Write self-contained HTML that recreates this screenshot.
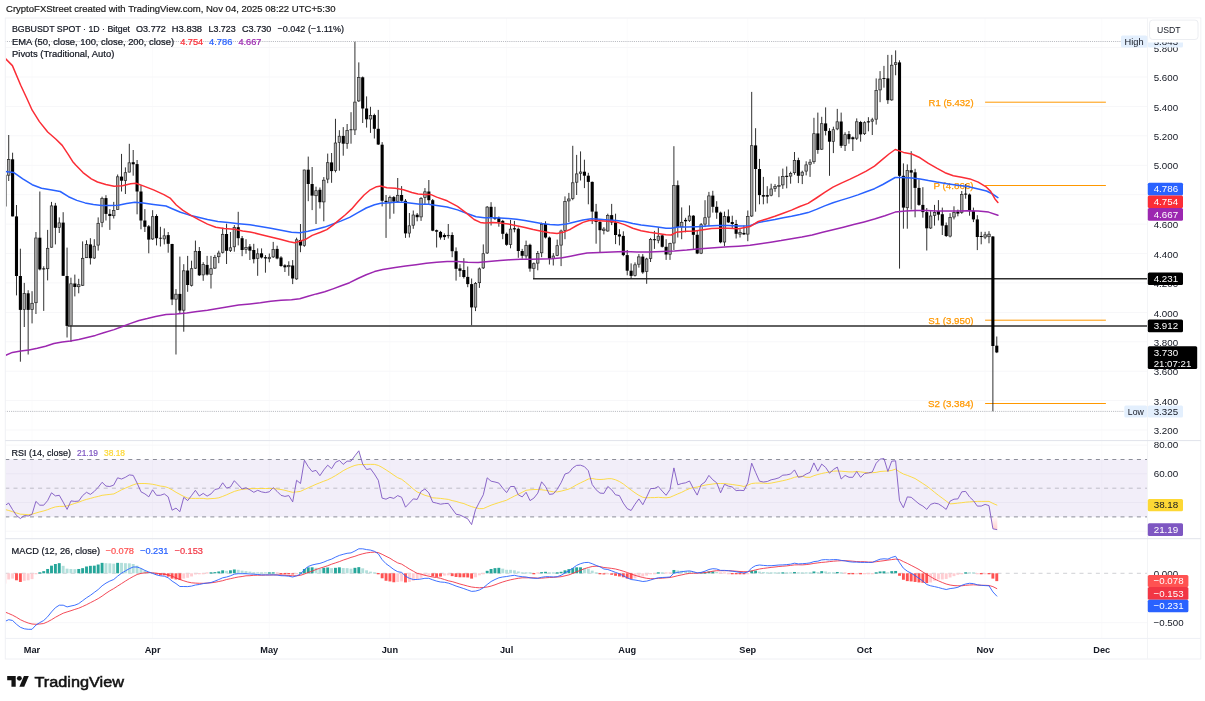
<!DOCTYPE html>
<html lang="en"><head><meta charset="utf-8"><title>BGBUSDT chart</title>
<style>html,body{margin:0;padding:0;background:#fff;overflow:hidden}svg{display:block}</style>
</head><body>
<svg width="1205" height="701" viewBox="0 0 1205 701" font-family="&quot;Liberation Sans&quot;, sans-serif">
<rect width="1205" height="701" fill="#fff"/>
<g stroke="#f7f7f9" stroke-width="1"><line x1="32.0" y1="18.0" x2="32.0" y2="638.4" stroke="#fbfbfc"/><line x1="152.6" y1="18.0" x2="152.6" y2="638.4" stroke="#fbfbfc"/><line x1="269.3" y1="18.0" x2="269.3" y2="638.4" stroke="#fbfbfc"/><line x1="389.9" y1="18.0" x2="389.9" y2="638.4" stroke="#fbfbfc"/><line x1="506.6" y1="18.0" x2="506.6" y2="638.4" stroke="#fbfbfc"/><line x1="627.2" y1="18.0" x2="627.2" y2="638.4" stroke="#fbfbfc"/><line x1="747.8" y1="18.0" x2="747.8" y2="638.4" stroke="#fbfbfc"/><line x1="864.5" y1="18.0" x2="864.5" y2="638.4" stroke="#fbfbfc"/><line x1="985.1" y1="18.0" x2="985.1" y2="638.4" stroke="#fbfbfc"/><line x1="1101.8" y1="18.0" x2="1101.8" y2="638.4" stroke="#fbfbfc"/><line x1="5.3" y1="47.6" x2="1147.5" y2="47.6"/><line x1="5.3" y1="77.0" x2="1147.5" y2="77.0"/><line x1="5.3" y1="106.4" x2="1147.5" y2="106.4"/><line x1="5.3" y1="135.8" x2="1147.5" y2="135.8"/><line x1="5.3" y1="165.3" x2="1147.5" y2="165.3"/><line x1="5.3" y1="194.7" x2="1147.5" y2="194.7"/><line x1="5.3" y1="224.1" x2="1147.5" y2="224.1"/><line x1="5.3" y1="253.5" x2="1147.5" y2="253.5"/><line x1="5.3" y1="282.9" x2="1147.5" y2="282.9"/><line x1="5.3" y1="312.4" x2="1147.5" y2="312.4"/><line x1="5.3" y1="341.8" x2="1147.5" y2="341.8"/><line x1="5.3" y1="371.2" x2="1147.5" y2="371.2"/><line x1="5.3" y1="400.6" x2="1147.5" y2="400.6"/><line x1="5.3" y1="430.0" x2="1147.5" y2="430.0"/><line x1="5.3" y1="445.1" x2="1147.5" y2="445.1"/><line x1="5.3" y1="473.8" x2="1147.5" y2="473.8"/><line x1="5.3" y1="502.5" x2="1147.5" y2="502.5"/><line x1="5.3" y1="531.2" x2="1147.5" y2="531.2"/><line x1="5.3" y1="622.7" x2="1147.5" y2="622.7"/></g>
<rect x="5.3" y="459.5" width="1142.2" height="57.4" fill="#7e57c2" fill-opacity="0.1"/>
<g stroke-dasharray="4 4.2" stroke-width="0.85" fill="none"><line x1="5.3" y1="459.5" x2="1147.5" y2="459.5" stroke="#787b86"/><line x1="5.3" y1="488.2" x2="1147.5" y2="488.2" stroke="#787b86" stroke-opacity="0.5"/><line x1="5.3" y1="516.9" x2="1147.5" y2="516.9" stroke="#787b86"/></g>
<line x1="5.3" y1="573.3" x2="1147.5" y2="573.3" stroke="#787b86" stroke-opacity="0.45" stroke-width="0.8" stroke-dasharray="4 4.2"/>
<line x1="5.3" y1="41.5" x2="1121" y2="41.5" stroke="#9598a1" stroke-width="0.8" stroke-dasharray="0.8 1.1"/>
<line x1="5.3" y1="411.4" x2="1124" y2="411.4" stroke="#9598a1" stroke-width="0.8" stroke-dasharray="0.8 1.1"/>
<line x1="985.1" y1="102.2" x2="1105.9" y2="102.2" stroke="#ff9800" stroke-width="1"/>
<text x="973.6" y="105.5" font-size="9.3" fill="#ff9800" stroke="#ff9800" stroke-width="0.25" text-anchor="end" textLength="45.0" lengthAdjust="spacingAndGlyphs">R1 (5.432)</text>
<line x1="985.1" y1="185.5" x2="1105.9" y2="185.5" stroke="#ff9800" stroke-width="1"/>
<text x="973.6" y="188.8" font-size="9.3" fill="#ff9800" stroke="#ff9800" stroke-width="0.25" text-anchor="end" textLength="40.1" lengthAdjust="spacingAndGlyphs">P (4.866)</text>
<line x1="985.1" y1="320.2" x2="1105.9" y2="320.2" stroke="#ff9800" stroke-width="1"/>
<text x="973.6" y="323.5" font-size="9.3" fill="#ff9800" stroke="#ff9800" stroke-width="0.25" text-anchor="end" textLength="45.4" lengthAdjust="spacingAndGlyphs">S1 (3.950)</text>
<line x1="985.1" y1="403.5" x2="1105.9" y2="403.5" stroke="#ff9800" stroke-width="1"/>
<text x="973.6" y="406.8" font-size="9.3" fill="#ff9800" stroke="#ff9800" stroke-width="0.25" text-anchor="end" textLength="45.6" lengthAdjust="spacingAndGlyphs">S2 (3.384)</text>
<defs><clipPath id="cp"><rect x="5.8" y="18.0" width="1141.7" height="620.4"/></clipPath><linearGradient id="os" x1="0" y1="0" x2="0" y2="1"><stop offset="0" stop-color="#ff5252" stop-opacity="0.02"/><stop offset="1" stop-color="#ff5252" stop-opacity="0.28"/></linearGradient></defs>
<g clip-path="url(#cp)">
<g><rect x="3.37" y="573.30" width="2.9" height="10.29" fill="#ffcdd2"/><rect x="7.26" y="573.30" width="2.9" height="6.15" fill="#ffcdd2"/><rect x="11.15" y="573.30" width="2.9" height="5.32" fill="#ffcdd2"/><rect x="15.04" y="573.30" width="2.9" height="6.98" fill="#ff5252"/><rect x="18.93" y="573.30" width="2.9" height="8.64" fill="#ff5252"/><rect x="22.82" y="573.30" width="2.9" height="7.47" fill="#ffcdd2"/><rect x="26.71" y="573.30" width="2.9" height="6.98" fill="#ffcdd2"/><rect x="30.60" y="573.30" width="2.9" height="5.81" fill="#ffcdd2"/><rect x="34.49" y="573.00" width="2.9" height="1.30" fill="#ffcdd2"/><rect x="38.38" y="572.30" width="2.9" height="1.30" fill="#26a69a"/><rect x="42.27" y="571.15" width="2.9" height="2.15" fill="#26a69a"/><rect x="46.16" y="568.98" width="2.9" height="4.32" fill="#26a69a"/><rect x="50.05" y="565.66" width="2.9" height="7.64" fill="#26a69a"/><rect x="53.94" y="564.00" width="2.9" height="9.30" fill="#26a69a"/><rect x="57.83" y="563.17" width="2.9" height="10.13" fill="#26a69a"/><rect x="61.72" y="565.83" width="2.9" height="7.47" fill="#b2dfdb"/><rect x="65.61" y="568.66" width="2.9" height="4.64" fill="#b2dfdb"/><rect x="69.50" y="568.98" width="2.9" height="4.32" fill="#b2dfdb"/><rect x="73.39" y="569.15" width="2.9" height="4.15" fill="#b2dfdb"/><rect x="77.28" y="568.98" width="2.9" height="4.32" fill="#26a69a"/><rect x="81.17" y="568.15" width="2.9" height="5.15" fill="#26a69a"/><rect x="85.06" y="566.49" width="2.9" height="6.81" fill="#26a69a"/><rect x="88.95" y="565.83" width="2.9" height="7.47" fill="#26a69a"/><rect x="92.84" y="565.66" width="2.9" height="7.64" fill="#26a69a"/><rect x="96.73" y="564.51" width="2.9" height="8.79" fill="#26a69a"/><rect x="100.62" y="562.85" width="2.9" height="10.45" fill="#26a69a"/><rect x="104.51" y="563.17" width="2.9" height="10.13" fill="#b2dfdb"/><rect x="108.40" y="563.34" width="2.9" height="9.96" fill="#b2dfdb"/><rect x="112.29" y="563.68" width="2.9" height="9.62" fill="#b2dfdb"/><rect x="116.18" y="562.85" width="2.9" height="10.45" fill="#26a69a"/><rect x="120.07" y="562.85" width="2.9" height="10.45" fill="#b2dfdb"/><rect x="123.96" y="563.17" width="2.9" height="10.13" fill="#b2dfdb"/><rect x="127.85" y="563.34" width="2.9" height="9.96" fill="#b2dfdb"/><rect x="131.74" y="564.00" width="2.9" height="9.30" fill="#b2dfdb"/><rect x="135.63" y="565.66" width="2.9" height="7.64" fill="#b2dfdb"/><rect x="139.52" y="568.66" width="2.9" height="4.64" fill="#b2dfdb"/><rect x="143.41" y="570.64" width="2.9" height="2.66" fill="#b2dfdb"/><rect x="147.30" y="571.98" width="2.9" height="1.32" fill="#b2dfdb"/><rect x="151.19" y="572.30" width="2.9" height="1.30" fill="#b2dfdb"/><rect x="155.08" y="573.30" width="2.9" height="1.17" fill="#ff5252"/><rect x="158.97" y="573.30" width="2.9" height="2.00" fill="#ff5252"/><rect x="162.86" y="573.30" width="2.9" height="2.00" fill="#ff5252"/><rect x="166.75" y="573.30" width="2.9" height="3.32" fill="#ff5252"/><rect x="170.64" y="573.30" width="2.9" height="5.32" fill="#ff5252"/><rect x="174.53" y="573.30" width="2.9" height="6.15" fill="#ff5252"/><rect x="178.42" y="573.30" width="2.9" height="6.64" fill="#ff5252"/><rect x="182.31" y="573.30" width="2.9" height="5.32" fill="#ffcdd2"/><rect x="186.20" y="573.30" width="2.9" height="4.49" fill="#ffcdd2"/><rect x="190.09" y="573.30" width="2.9" height="3.15" fill="#ffcdd2"/><rect x="193.98" y="573.30" width="2.9" height="1.17" fill="#ffcdd2"/><rect x="197.87" y="573.00" width="2.9" height="1.30" fill="#ffcdd2"/><rect x="201.76" y="573.00" width="2.9" height="1.30" fill="#ffcdd2"/><rect x="205.65" y="572.30" width="2.9" height="1.30" fill="#ffcdd2"/><rect x="209.54" y="572.30" width="2.9" height="1.30" fill="#26a69a"/><rect x="213.43" y="572.13" width="2.9" height="1.17" fill="#26a69a"/><rect x="217.32" y="571.47" width="2.9" height="1.83" fill="#26a69a"/><rect x="221.21" y="570.32" width="2.9" height="2.98" fill="#26a69a"/><rect x="225.10" y="570.81" width="2.9" height="2.49" fill="#b2dfdb"/><rect x="228.99" y="570.32" width="2.9" height="2.98" fill="#26a69a"/><rect x="232.88" y="569.49" width="2.9" height="3.81" fill="#26a69a"/><rect x="236.77" y="569.81" width="2.9" height="3.49" fill="#b2dfdb"/><rect x="240.66" y="570.64" width="2.9" height="2.66" fill="#b2dfdb"/><rect x="244.55" y="571.15" width="2.9" height="2.15" fill="#b2dfdb"/><rect x="248.44" y="571.64" width="2.9" height="1.66" fill="#b2dfdb"/><rect x="252.33" y="572.30" width="2.9" height="1.30" fill="#b2dfdb"/><rect x="256.22" y="572.30" width="2.9" height="1.30" fill="#b2dfdb"/><rect x="260.11" y="572.30" width="2.9" height="1.30" fill="#b2dfdb"/><rect x="264.00" y="572.30" width="2.9" height="1.30" fill="#b2dfdb"/><rect x="267.89" y="572.30" width="2.9" height="1.30" fill="#26a69a"/><rect x="271.78" y="572.30" width="2.9" height="1.30" fill="#26a69a"/><rect x="275.67" y="572.30" width="2.9" height="1.30" fill="#ffcdd2"/><rect x="279.56" y="573.00" width="2.9" height="1.30" fill="#ff5252"/><rect x="283.45" y="573.00" width="2.9" height="1.30" fill="#ff5252"/><rect x="287.34" y="573.00" width="2.9" height="1.30" fill="#ff5252"/><rect x="291.23" y="573.30" width="2.9" height="1.17" fill="#ff5252"/><rect x="295.12" y="573.00" width="2.9" height="1.30" fill="#ffcdd2"/><rect x="299.01" y="572.30" width="2.9" height="1.30" fill="#26a69a"/><rect x="302.90" y="568.98" width="2.9" height="4.32" fill="#26a69a"/><rect x="306.79" y="567.32" width="2.9" height="5.98" fill="#26a69a"/><rect x="310.68" y="567.32" width="2.9" height="5.98" fill="#26a69a"/><rect x="314.57" y="567.83" width="2.9" height="5.47" fill="#b2dfdb"/><rect x="318.46" y="568.66" width="2.9" height="4.64" fill="#b2dfdb"/><rect x="322.35" y="567.83" width="2.9" height="5.47" fill="#26a69a"/><rect x="326.24" y="567.49" width="2.9" height="5.81" fill="#26a69a"/><rect x="330.13" y="568.15" width="2.9" height="5.15" fill="#b2dfdb"/><rect x="334.02" y="567.83" width="2.9" height="5.47" fill="#26a69a"/><rect x="337.91" y="567.32" width="2.9" height="5.98" fill="#26a69a"/><rect x="341.80" y="567.98" width="2.9" height="5.32" fill="#b2dfdb"/><rect x="345.69" y="568.15" width="2.9" height="5.15" fill="#b2dfdb"/><rect x="349.58" y="568.66" width="2.9" height="4.64" fill="#b2dfdb"/><rect x="353.47" y="567.83" width="2.9" height="5.47" fill="#26a69a"/><rect x="357.36" y="567.15" width="2.9" height="6.15" fill="#26a69a"/><rect x="361.25" y="568.32" width="2.9" height="4.98" fill="#b2dfdb"/><rect x="365.14" y="570.32" width="2.9" height="2.98" fill="#b2dfdb"/><rect x="369.03" y="571.64" width="2.9" height="1.66" fill="#b2dfdb"/><rect x="372.92" y="572.30" width="2.9" height="1.30" fill="#b2dfdb"/><rect x="376.81" y="573.00" width="2.9" height="1.30" fill="#ff5252"/><rect x="380.70" y="573.30" width="2.9" height="4.98" fill="#ff5252"/><rect x="384.59" y="573.30" width="2.9" height="7.47" fill="#ff5252"/><rect x="388.48" y="573.30" width="2.9" height="8.13" fill="#ff5252"/><rect x="392.37" y="573.30" width="2.9" height="8.96" fill="#ff5252"/><rect x="396.26" y="573.30" width="2.9" height="8.64" fill="#ffcdd2"/><rect x="400.15" y="573.30" width="2.9" height="8.13" fill="#ffcdd2"/><rect x="404.04" y="573.30" width="2.9" height="9.13" fill="#ff5252"/><rect x="407.93" y="573.30" width="2.9" height="8.64" fill="#ffcdd2"/><rect x="411.82" y="573.30" width="2.9" height="7.47" fill="#ffcdd2"/><rect x="415.71" y="573.30" width="2.9" height="6.15" fill="#ffcdd2"/><rect x="419.60" y="573.30" width="2.9" height="4.49" fill="#ffcdd2"/><rect x="423.49" y="573.30" width="2.9" height="2.49" fill="#ffcdd2"/><rect x="427.38" y="573.30" width="2.9" height="2.00" fill="#ffcdd2"/><rect x="431.27" y="573.30" width="2.9" height="3.15" fill="#ff5252"/><rect x="435.16" y="573.30" width="2.9" height="3.66" fill="#ff5252"/><rect x="439.05" y="573.30" width="2.9" height="3.32" fill="#ff5252"/><rect x="442.94" y="573.30" width="2.9" height="2.32" fill="#ffcdd2"/><rect x="446.83" y="573.30" width="2.9" height="2.00" fill="#ffcdd2"/><rect x="450.72" y="573.30" width="2.9" height="2.83" fill="#ff5252"/><rect x="454.61" y="573.30" width="2.9" height="3.66" fill="#ff5252"/><rect x="458.50" y="573.30" width="2.9" height="3.98" fill="#ff5252"/><rect x="462.39" y="573.30" width="2.9" height="3.98" fill="#ff5252"/><rect x="466.28" y="573.30" width="2.9" height="4.15" fill="#ff5252"/><rect x="470.17" y="573.30" width="2.9" height="5.32" fill="#ff5252"/><rect x="474.06" y="573.30" width="2.9" height="3.98" fill="#ffcdd2"/><rect x="477.95" y="573.30" width="2.9" height="2.00" fill="#ffcdd2"/><rect x="481.84" y="573.00" width="2.9" height="1.30" fill="#ffcdd2"/><rect x="485.73" y="570.81" width="2.9" height="2.49" fill="#26a69a"/><rect x="489.62" y="568.98" width="2.9" height="4.32" fill="#26a69a"/><rect x="493.51" y="568.15" width="2.9" height="5.15" fill="#26a69a"/><rect x="497.40" y="567.83" width="2.9" height="5.47" fill="#26a69a"/><rect x="501.29" y="568.66" width="2.9" height="4.64" fill="#b2dfdb"/><rect x="505.18" y="569.81" width="2.9" height="3.49" fill="#b2dfdb"/><rect x="509.07" y="569.81" width="2.9" height="3.49" fill="#b2dfdb"/><rect x="512.96" y="570.32" width="2.9" height="2.98" fill="#b2dfdb"/><rect x="516.85" y="571.47" width="2.9" height="1.83" fill="#b2dfdb"/><rect x="520.74" y="572.30" width="2.9" height="1.30" fill="#b2dfdb"/><rect x="524.63" y="572.30" width="2.9" height="1.30" fill="#b2dfdb"/><rect x="528.52" y="572.30" width="2.9" height="1.30" fill="#b2dfdb"/><rect x="532.41" y="573.00" width="2.9" height="1.30" fill="#ff5252"/><rect x="536.30" y="572.30" width="2.9" height="1.30" fill="#ffcdd2"/><rect x="540.19" y="572.13" width="2.9" height="1.17" fill="#26a69a"/><rect x="544.08" y="571.81" width="2.9" height="1.49" fill="#26a69a"/><rect x="547.97" y="572.30" width="2.9" height="1.30" fill="#b2dfdb"/><rect x="551.86" y="572.30" width="2.9" height="1.30" fill="#b2dfdb"/><rect x="555.75" y="572.30" width="2.9" height="1.30" fill="#26a69a"/><rect x="559.64" y="571.81" width="2.9" height="1.49" fill="#26a69a"/><rect x="563.53" y="570.32" width="2.9" height="2.98" fill="#26a69a"/><rect x="567.42" y="569.15" width="2.9" height="4.15" fill="#26a69a"/><rect x="571.31" y="568.15" width="2.9" height="5.15" fill="#26a69a"/><rect x="575.20" y="567.32" width="2.9" height="5.98" fill="#26a69a"/><rect x="579.09" y="567.32" width="2.9" height="5.98" fill="#26a69a"/><rect x="582.98" y="568.15" width="2.9" height="5.15" fill="#b2dfdb"/><rect x="586.87" y="568.66" width="2.9" height="4.64" fill="#b2dfdb"/><rect x="590.76" y="570.64" width="2.9" height="2.66" fill="#b2dfdb"/><rect x="594.65" y="572.30" width="2.9" height="1.30" fill="#b2dfdb"/><rect x="598.54" y="573.00" width="2.9" height="1.30" fill="#ff5252"/><rect x="602.43" y="573.30" width="2.9" height="1.17" fill="#ff5252"/><rect x="606.32" y="573.00" width="2.9" height="1.30" fill="#ffcdd2"/><rect x="610.21" y="573.30" width="2.9" height="1.49" fill="#ff5252"/><rect x="614.10" y="573.30" width="2.9" height="2.49" fill="#ff5252"/><rect x="617.99" y="573.30" width="2.9" height="3.15" fill="#ff5252"/><rect x="621.88" y="573.30" width="2.9" height="3.98" fill="#ff5252"/><rect x="625.77" y="573.30" width="2.9" height="5.32" fill="#ff5252"/><rect x="629.66" y="573.30" width="2.9" height="5.64" fill="#ff5252"/><rect x="633.55" y="573.30" width="2.9" height="4.98" fill="#ffcdd2"/><rect x="637.44" y="573.30" width="2.9" height="3.15" fill="#ffcdd2"/><rect x="641.33" y="573.30" width="2.9" height="3.15" fill="#ffcdd2"/><rect x="645.22" y="573.30" width="2.9" height="2.32" fill="#ffcdd2"/><rect x="649.11" y="573.00" width="2.9" height="1.30" fill="#ffcdd2"/><rect x="653.00" y="573.00" width="2.9" height="1.30" fill="#ffcdd2"/><rect x="656.89" y="572.30" width="2.9" height="1.30" fill="#26a69a"/><rect x="660.78" y="572.30" width="2.9" height="1.30" fill="#b2dfdb"/><rect x="664.67" y="572.30" width="2.9" height="1.30" fill="#ffcdd2"/><rect x="668.56" y="572.30" width="2.9" height="1.30" fill="#ffcdd2"/><rect x="672.45" y="569.98" width="2.9" height="3.32" fill="#26a69a"/><rect x="676.34" y="570.47" width="2.9" height="2.83" fill="#b2dfdb"/><rect x="680.23" y="570.81" width="2.9" height="2.49" fill="#b2dfdb"/><rect x="684.12" y="571.15" width="2.9" height="2.15" fill="#b2dfdb"/><rect x="688.01" y="571.15" width="2.9" height="2.15" fill="#b2dfdb"/><rect x="691.90" y="572.30" width="2.9" height="1.30" fill="#b2dfdb"/><rect x="695.79" y="572.30" width="2.9" height="1.30" fill="#ffcdd2"/><rect x="699.68" y="572.30" width="2.9" height="1.30" fill="#26a69a"/><rect x="703.57" y="572.30" width="2.9" height="1.30" fill="#26a69a"/><rect x="707.46" y="571.47" width="2.9" height="1.83" fill="#26a69a"/><rect x="711.35" y="571.47" width="2.9" height="1.83" fill="#26a69a"/><rect x="715.24" y="571.98" width="2.9" height="1.32" fill="#b2dfdb"/><rect x="719.13" y="572.30" width="2.9" height="1.30" fill="#ffcdd2"/><rect x="723.02" y="572.30" width="2.9" height="1.30" fill="#ffcdd2"/><rect x="726.91" y="573.00" width="2.9" height="1.30" fill="#ffcdd2"/><rect x="730.80" y="573.00" width="2.9" height="1.30" fill="#ff5252"/><rect x="734.69" y="573.00" width="2.9" height="1.30" fill="#ff5252"/><rect x="738.58" y="573.00" width="2.9" height="1.30" fill="#ff5252"/><rect x="742.47" y="573.00" width="2.9" height="1.30" fill="#ff5252"/><rect x="746.36" y="573.00" width="2.9" height="1.30" fill="#ffcdd2"/><rect x="750.25" y="570.64" width="2.9" height="2.66" fill="#26a69a"/><rect x="754.14" y="570.64" width="2.9" height="2.66" fill="#26a69a"/><rect x="758.03" y="571.64" width="2.9" height="1.66" fill="#b2dfdb"/><rect x="761.92" y="571.98" width="2.9" height="1.32" fill="#b2dfdb"/><rect x="765.81" y="572.30" width="2.9" height="1.30" fill="#b2dfdb"/><rect x="769.70" y="572.30" width="2.9" height="1.30" fill="#b2dfdb"/><rect x="773.59" y="572.30" width="2.9" height="1.30" fill="#b2dfdb"/><rect x="777.48" y="572.30" width="2.9" height="1.30" fill="#b2dfdb"/><rect x="781.37" y="572.30" width="2.9" height="1.30" fill="#26a69a"/><rect x="785.26" y="572.30" width="2.9" height="1.30" fill="#b2dfdb"/><rect x="789.15" y="572.30" width="2.9" height="1.30" fill="#b2dfdb"/><rect x="793.04" y="571.98" width="2.9" height="1.32" fill="#26a69a"/><rect x="796.93" y="572.30" width="2.9" height="1.30" fill="#b2dfdb"/><rect x="800.82" y="572.30" width="2.9" height="1.30" fill="#b2dfdb"/><rect x="804.71" y="572.30" width="2.9" height="1.30" fill="#b2dfdb"/><rect x="808.60" y="572.30" width="2.9" height="1.30" fill="#b2dfdb"/><rect x="812.49" y="571.47" width="2.9" height="1.83" fill="#26a69a"/><rect x="816.38" y="572.13" width="2.9" height="1.17" fill="#b2dfdb"/><rect x="820.27" y="571.15" width="2.9" height="2.15" fill="#26a69a"/><rect x="824.16" y="571.47" width="2.9" height="1.83" fill="#b2dfdb"/><rect x="828.05" y="572.30" width="2.9" height="1.30" fill="#b2dfdb"/><rect x="831.94" y="572.30" width="2.9" height="1.30" fill="#b2dfdb"/><rect x="835.83" y="571.98" width="2.9" height="1.32" fill="#26a69a"/><rect x="839.72" y="572.30" width="2.9" height="1.30" fill="#b2dfdb"/><rect x="843.61" y="572.30" width="2.9" height="1.30" fill="#ffcdd2"/><rect x="847.50" y="573.00" width="2.9" height="1.30" fill="#ff5252"/><rect x="851.39" y="573.00" width="2.9" height="1.30" fill="#ff5252"/><rect x="855.28" y="573.00" width="2.9" height="1.30" fill="#ffcdd2"/><rect x="859.17" y="573.00" width="2.9" height="1.30" fill="#ff5252"/><rect x="863.06" y="573.00" width="2.9" height="1.30" fill="#ffcdd2"/><rect x="866.95" y="573.00" width="2.9" height="1.30" fill="#ffcdd2"/><rect x="870.84" y="573.00" width="2.9" height="1.30" fill="#ffcdd2"/><rect x="874.73" y="572.30" width="2.9" height="1.30" fill="#26a69a"/><rect x="878.62" y="571.47" width="2.9" height="1.83" fill="#26a69a"/><rect x="882.51" y="571.30" width="2.9" height="2.00" fill="#26a69a"/><rect x="886.40" y="572.30" width="2.9" height="1.30" fill="#b2dfdb"/><rect x="890.29" y="571.15" width="2.9" height="2.15" fill="#26a69a"/><rect x="894.18" y="570.98" width="2.9" height="2.32" fill="#26a69a"/><rect x="898.07" y="573.30" width="2.9" height="2.49" fill="#ff5252"/><rect x="901.96" y="573.30" width="2.9" height="6.47" fill="#ff5252"/><rect x="905.85" y="573.30" width="2.9" height="7.81" fill="#ff5252"/><rect x="909.74" y="573.30" width="2.9" height="8.13" fill="#ff5252"/><rect x="913.63" y="573.30" width="2.9" height="8.64" fill="#ff5252"/><rect x="917.52" y="573.30" width="2.9" height="9.13" fill="#ff5252"/><rect x="921.41" y="573.30" width="2.9" height="9.47" fill="#ff5252"/><rect x="925.30" y="573.30" width="2.9" height="9.79" fill="#ff5252"/><rect x="929.19" y="573.30" width="2.9" height="9.13" fill="#ffcdd2"/><rect x="933.08" y="573.30" width="2.9" height="7.47" fill="#ffcdd2"/><rect x="936.97" y="573.30" width="2.9" height="6.15" fill="#ffcdd2"/><rect x="940.86" y="573.30" width="2.9" height="6.15" fill="#ffcdd2"/><rect x="944.75" y="573.30" width="2.9" height="5.64" fill="#ffcdd2"/><rect x="948.64" y="573.30" width="2.9" height="4.15" fill="#ffcdd2"/><rect x="952.53" y="573.30" width="2.9" height="2.83" fill="#ffcdd2"/><rect x="956.42" y="573.30" width="2.9" height="1.49" fill="#ffcdd2"/><rect x="960.31" y="573.00" width="2.9" height="1.30" fill="#ffcdd2"/><rect x="964.20" y="572.30" width="2.9" height="1.30" fill="#26a69a"/><rect x="968.09" y="572.30" width="2.9" height="1.30" fill="#b2dfdb"/><rect x="971.98" y="572.30" width="2.9" height="1.30" fill="#b2dfdb"/><rect x="975.87" y="573.00" width="2.9" height="1.30" fill="#ffcdd2"/><rect x="979.76" y="573.00" width="2.9" height="1.30" fill="#ff5252"/><rect x="983.65" y="573.00" width="2.9" height="1.30" fill="#ffcdd2"/><rect x="987.54" y="573.00" width="2.9" height="1.30" fill="#ff5252"/><rect x="991.43" y="573.30" width="2.9" height="5.32" fill="#ff5252"/><rect x="995.32" y="573.30" width="2.9" height="7.81" fill="#ff5252"/></g>
<line x1="533" y1="278.7" x2="1147.5" y2="278.7" stroke="#2e2e2e" stroke-width="1.5"/>
<line x1="68" y1="325.9" x2="1147.5" y2="325.9" stroke="#2e2e2e" stroke-width="1.5"/>
<g><line x1="8.71" y1="135.0" x2="8.71" y2="181.0" stroke="#1a1a1a" stroke-width="0.9"/><rect x="7.46" y="159.6" width="2.5" height="15.6" fill="#adadad" stroke="#262626" stroke-width="0.7"/><line x1="12.60" y1="152.7" x2="12.60" y2="216.4" stroke="#1a1a1a" stroke-width="0.9"/><rect x="11.05" y="159.3" width="3.1" height="57.1" fill="#000"/><line x1="16.49" y1="205.0" x2="16.49" y2="295.4" stroke="#1a1a1a" stroke-width="0.9"/><rect x="14.94" y="216.4" width="3.1" height="59.6" fill="#000"/><line x1="20.38" y1="248.7" x2="20.38" y2="361.7" stroke="#1a1a1a" stroke-width="0.9"/><rect x="18.83" y="276.0" width="3.1" height="33.9" fill="#000"/><line x1="24.27" y1="282.9" x2="24.27" y2="327.0" stroke="#1a1a1a" stroke-width="0.9"/><rect x="23.02" y="293.6" width="2.5" height="16.0" fill="#adadad" stroke="#262626" stroke-width="0.7"/><line x1="28.16" y1="290.2" x2="28.16" y2="354.5" stroke="#1a1a1a" stroke-width="0.9"/><rect x="26.61" y="293.3" width="3.1" height="16.6" fill="#000"/><line x1="32.05" y1="291.2" x2="32.05" y2="323.4" stroke="#1a1a1a" stroke-width="0.9"/><rect x="30.80" y="303.3" width="2.5" height="6.3" fill="#adadad" stroke="#262626" stroke-width="0.7"/><line x1="35.94" y1="232.0" x2="35.94" y2="314.0" stroke="#1a1a1a" stroke-width="0.9"/><rect x="34.69" y="238.0" width="2.5" height="64.7" fill="#adadad" stroke="#262626" stroke-width="0.7"/><line x1="39.83" y1="191.5" x2="39.83" y2="270.4" stroke="#1a1a1a" stroke-width="0.9"/><rect x="38.28" y="237.7" width="3.1" height="31.7" fill="#000"/><line x1="43.72" y1="266.3" x2="43.72" y2="310.9" stroke="#1a1a1a" stroke-width="0.9"/><rect x="42.17" y="268.4" width="3.1" height="1.0" fill="#000"/><line x1="47.61" y1="229.9" x2="47.61" y2="280.4" stroke="#1a1a1a" stroke-width="0.9"/><rect x="46.36" y="248.3" width="2.5" height="20.4" fill="#adadad" stroke="#262626" stroke-width="0.7"/><line x1="51.50" y1="201.9" x2="51.50" y2="247.6" stroke="#1a1a1a" stroke-width="0.9"/><rect x="50.25" y="205.9" width="2.5" height="41.3" fill="#adadad" stroke="#262626" stroke-width="0.7"/><line x1="55.39" y1="202.9" x2="55.39" y2="244.4" stroke="#1a1a1a" stroke-width="0.9"/><rect x="53.84" y="205.6" width="3.1" height="22.2" fill="#000"/><line x1="59.28" y1="217.4" x2="59.28" y2="233.0" stroke="#1a1a1a" stroke-width="0.9"/><rect x="58.03" y="222.9" width="2.5" height="4.6" fill="#adadad" stroke="#262626" stroke-width="0.7"/><line x1="63.17" y1="212.2" x2="63.17" y2="276.0" stroke="#1a1a1a" stroke-width="0.9"/><rect x="61.62" y="222.6" width="3.1" height="53.2" fill="#000"/><line x1="67.06" y1="247.6" x2="67.06" y2="337.5" stroke="#1a1a1a" stroke-width="0.9"/><rect x="65.51" y="276.0" width="3.1" height="49.9" fill="#000"/><line x1="70.95" y1="277.7" x2="70.95" y2="342.0" stroke="#1a1a1a" stroke-width="0.9"/><rect x="69.70" y="283.8" width="2.5" height="41.8" fill="#adadad" stroke="#262626" stroke-width="0.7"/><line x1="74.84" y1="274.6" x2="74.84" y2="296.4" stroke="#1a1a1a" stroke-width="0.9"/><rect x="73.29" y="283.5" width="3.1" height="3.5" fill="#000"/><line x1="78.73" y1="278.8" x2="78.73" y2="293.3" stroke="#1a1a1a" stroke-width="0.9"/><rect x="77.48" y="284.7" width="2.5" height="2.0" fill="#adadad" stroke="#262626" stroke-width="0.7"/><line x1="82.62" y1="241.4" x2="82.62" y2="286.0" stroke="#1a1a1a" stroke-width="0.9"/><rect x="81.37" y="258.3" width="2.5" height="27.0" fill="#adadad" stroke="#262626" stroke-width="0.7"/><line x1="86.51" y1="240.3" x2="86.51" y2="258.0" stroke="#1a1a1a" stroke-width="0.9"/><rect x="85.26" y="244.5" width="2.5" height="13.2" fill="#adadad" stroke="#262626" stroke-width="0.7"/><line x1="90.40" y1="238.2" x2="90.40" y2="264.5" stroke="#1a1a1a" stroke-width="0.9"/><rect x="88.85" y="244.4" width="3.1" height="13.8" fill="#000"/><line x1="94.29" y1="239.2" x2="94.29" y2="259.0" stroke="#1a1a1a" stroke-width="0.9"/><rect x="93.04" y="246.2" width="2.5" height="11.8" fill="#adadad" stroke="#262626" stroke-width="0.7"/><line x1="98.18" y1="217.4" x2="98.18" y2="250.6" stroke="#1a1a1a" stroke-width="0.9"/><rect x="96.93" y="223.3" width="2.5" height="21.8" fill="#adadad" stroke="#262626" stroke-width="0.7"/><line x1="102.07" y1="196.7" x2="102.07" y2="227.2" stroke="#1a1a1a" stroke-width="0.9"/><rect x="100.82" y="198.4" width="2.5" height="23.9" fill="#adadad" stroke="#262626" stroke-width="0.7"/><line x1="105.96" y1="195.2" x2="105.96" y2="220.5" stroke="#1a1a1a" stroke-width="0.9"/><rect x="104.41" y="198.1" width="3.1" height="15.8" fill="#000"/><line x1="109.85" y1="209.1" x2="109.85" y2="229.9" stroke="#1a1a1a" stroke-width="0.9"/><rect x="108.30" y="213.9" width="3.1" height="2.1" fill="#000"/><line x1="113.74" y1="201.9" x2="113.74" y2="218.5" stroke="#1a1a1a" stroke-width="0.9"/><rect x="112.49" y="210.5" width="2.5" height="5.2" fill="#adadad" stroke="#262626" stroke-width="0.7"/><line x1="117.63" y1="174.5" x2="117.63" y2="209.8" stroke="#1a1a1a" stroke-width="0.9"/><rect x="116.38" y="176.8" width="2.5" height="32.7" fill="#adadad" stroke="#262626" stroke-width="0.7"/><line x1="121.52" y1="153.9" x2="121.52" y2="191.5" stroke="#1a1a1a" stroke-width="0.9"/><rect x="119.97" y="176.6" width="3.1" height="4.1" fill="#000"/><line x1="125.41" y1="167.4" x2="125.41" y2="194.0" stroke="#1a1a1a" stroke-width="0.9"/><rect x="124.16" y="172.7" width="2.5" height="7.7" fill="#adadad" stroke="#262626" stroke-width="0.7"/><line x1="129.30" y1="143.8" x2="129.30" y2="172.4" stroke="#1a1a1a" stroke-width="0.9"/><rect x="128.05" y="162.8" width="2.5" height="9.3" fill="#adadad" stroke="#262626" stroke-width="0.7"/><line x1="133.19" y1="150.0" x2="133.19" y2="175.7" stroke="#1a1a1a" stroke-width="0.9"/><rect x="131.64" y="162.2" width="3.1" height="2.1" fill="#000"/><line x1="137.08" y1="160.0" x2="137.08" y2="214.3" stroke="#1a1a1a" stroke-width="0.9"/><rect x="135.53" y="164.1" width="3.1" height="27.4" fill="#000"/><line x1="140.97" y1="185.3" x2="140.97" y2="229.3" stroke="#1a1a1a" stroke-width="0.9"/><rect x="139.42" y="191.5" width="3.1" height="29.0" fill="#000"/><line x1="144.86" y1="209.1" x2="144.86" y2="232.0" stroke="#1a1a1a" stroke-width="0.9"/><rect x="143.31" y="220.5" width="3.1" height="6.3" fill="#000"/><line x1="148.75" y1="225.0" x2="148.75" y2="253.3" stroke="#1a1a1a" stroke-width="0.9"/><rect x="147.20" y="226.3" width="3.1" height="13.3" fill="#000"/><line x1="152.64" y1="210.2" x2="152.64" y2="240.0" stroke="#1a1a1a" stroke-width="0.9"/><rect x="151.39" y="216.7" width="2.5" height="22.2" fill="#adadad" stroke="#262626" stroke-width="0.7"/><line x1="156.53" y1="214.3" x2="156.53" y2="245.4" stroke="#1a1a1a" stroke-width="0.9"/><rect x="154.98" y="216.0" width="3.1" height="22.2" fill="#000"/><line x1="160.42" y1="226.8" x2="160.42" y2="246.5" stroke="#1a1a1a" stroke-width="0.9"/><rect x="158.87" y="237.8" width="3.1" height="0.8" fill="#000"/><line x1="164.31" y1="228.4" x2="164.31" y2="244.4" stroke="#1a1a1a" stroke-width="0.9"/><rect x="163.06" y="235.8" width="2.5" height="3.1" fill="#adadad" stroke="#262626" stroke-width="0.7"/><line x1="168.20" y1="232.0" x2="168.20" y2="252.7" stroke="#1a1a1a" stroke-width="0.9"/><rect x="166.65" y="235.1" width="3.1" height="8.7" fill="#000"/><line x1="172.09" y1="243.8" x2="172.09" y2="305.1" stroke="#1a1a1a" stroke-width="0.9"/><rect x="170.54" y="244.0" width="3.1" height="55.5" fill="#000"/><line x1="175.98" y1="289.1" x2="175.98" y2="354.5" stroke="#1a1a1a" stroke-width="0.9"/><rect x="174.73" y="294.2" width="2.5" height="5.0" fill="#adadad" stroke="#262626" stroke-width="0.7"/><line x1="179.87" y1="256.6" x2="179.87" y2="314.0" stroke="#1a1a1a" stroke-width="0.9"/><rect x="178.32" y="293.9" width="3.1" height="16.6" fill="#000"/><line x1="183.76" y1="264.2" x2="183.76" y2="331.7" stroke="#1a1a1a" stroke-width="0.9"/><rect x="182.51" y="270.8" width="2.5" height="39.4" fill="#adadad" stroke="#262626" stroke-width="0.7"/><line x1="187.65" y1="255.9" x2="187.65" y2="291.8" stroke="#1a1a1a" stroke-width="0.9"/><rect x="186.10" y="270.5" width="3.1" height="14.5" fill="#000"/><line x1="191.54" y1="260.7" x2="191.54" y2="286.5" stroke="#1a1a1a" stroke-width="0.9"/><rect x="190.29" y="268.7" width="2.5" height="16.6" fill="#adadad" stroke="#262626" stroke-width="0.7"/><line x1="195.43" y1="240.6" x2="195.43" y2="269.0" stroke="#1a1a1a" stroke-width="0.9"/><rect x="194.18" y="251.3" width="2.5" height="16.9" fill="#adadad" stroke="#262626" stroke-width="0.7"/><line x1="199.32" y1="247.0" x2="199.32" y2="276.0" stroke="#1a1a1a" stroke-width="0.9"/><rect x="197.77" y="251.0" width="3.1" height="24.3" fill="#000"/><line x1="203.21" y1="262.2" x2="203.21" y2="280.8" stroke="#1a1a1a" stroke-width="0.9"/><rect x="201.96" y="264.5" width="2.5" height="10.4" fill="#adadad" stroke="#262626" stroke-width="0.7"/><line x1="207.10" y1="255.9" x2="207.10" y2="275.5" stroke="#1a1a1a" stroke-width="0.9"/><rect x="205.55" y="264.9" width="3.1" height="9.7" fill="#000"/><line x1="210.99" y1="255.9" x2="210.99" y2="288.5" stroke="#1a1a1a" stroke-width="0.9"/><rect x="209.74" y="268.7" width="2.5" height="5.6" fill="#adadad" stroke="#262626" stroke-width="0.7"/><line x1="214.88" y1="254.9" x2="214.88" y2="269.0" stroke="#1a1a1a" stroke-width="0.9"/><rect x="213.63" y="257.3" width="2.5" height="10.8" fill="#adadad" stroke="#262626" stroke-width="0.7"/><line x1="218.77" y1="250.7" x2="218.77" y2="263.2" stroke="#1a1a1a" stroke-width="0.9"/><rect x="217.52" y="253.1" width="2.5" height="3.6" fill="#adadad" stroke="#262626" stroke-width="0.7"/><line x1="222.66" y1="227.8" x2="222.66" y2="253.5" stroke="#1a1a1a" stroke-width="0.9"/><rect x="221.41" y="234.3" width="2.5" height="18.0" fill="#adadad" stroke="#262626" stroke-width="0.7"/><line x1="226.55" y1="223.7" x2="226.55" y2="264.0" stroke="#1a1a1a" stroke-width="0.9"/><rect x="225.00" y="234.0" width="3.1" height="16.8" fill="#000"/><line x1="230.44" y1="232.0" x2="230.44" y2="252.0" stroke="#1a1a1a" stroke-width="0.9"/><rect x="229.19" y="247.8" width="2.5" height="2.7" fill="#adadad" stroke="#262626" stroke-width="0.7"/><line x1="234.33" y1="225.1" x2="234.33" y2="251.7" stroke="#1a1a1a" stroke-width="0.9"/><rect x="233.08" y="227.5" width="2.5" height="19.3" fill="#adadad" stroke="#262626" stroke-width="0.7"/><line x1="238.22" y1="211.8" x2="238.22" y2="245.4" stroke="#1a1a1a" stroke-width="0.9"/><rect x="236.67" y="227.2" width="3.1" height="11.0" fill="#000"/><line x1="242.11" y1="236.0" x2="242.11" y2="256.2" stroke="#1a1a1a" stroke-width="0.9"/><rect x="240.56" y="238.2" width="3.1" height="11.8" fill="#000"/><line x1="246.00" y1="239.2" x2="246.00" y2="253.7" stroke="#1a1a1a" stroke-width="0.9"/><rect x="244.75" y="247.4" width="2.5" height="1.9" fill="#adadad" stroke="#262626" stroke-width="0.7"/><line x1="249.89" y1="244.0" x2="249.89" y2="260.0" stroke="#1a1a1a" stroke-width="0.9"/><rect x="248.34" y="246.5" width="3.1" height="4.1" fill="#000"/><line x1="253.78" y1="243.8" x2="253.78" y2="263.4" stroke="#1a1a1a" stroke-width="0.9"/><rect x="252.23" y="250.0" width="3.1" height="9.2" fill="#000"/><line x1="257.67" y1="248.4" x2="257.67" y2="275.8" stroke="#1a1a1a" stroke-width="0.9"/><rect x="256.42" y="253.8" width="2.5" height="4.5" fill="#adadad" stroke="#262626" stroke-width="0.7"/><line x1="261.56" y1="248.4" x2="261.56" y2="258.5" stroke="#1a1a1a" stroke-width="0.9"/><rect x="260.01" y="253.3" width="3.1" height="4.2" fill="#000"/><line x1="265.45" y1="255.1" x2="265.45" y2="272.7" stroke="#1a1a1a" stroke-width="0.9"/><rect x="263.90" y="257.2" width="3.1" height="1.2" fill="#000"/><line x1="269.34" y1="253.5" x2="269.34" y2="262.3" stroke="#1a1a1a" stroke-width="0.9"/><rect x="268.09" y="257.3" width="2.5" height="1.4" fill="#adadad" stroke="#262626" stroke-width="0.7"/><line x1="273.23" y1="241.9" x2="273.23" y2="258.0" stroke="#1a1a1a" stroke-width="0.9"/><rect x="271.98" y="249.5" width="2.5" height="7.4" fill="#adadad" stroke="#262626" stroke-width="0.7"/><line x1="277.12" y1="245.7" x2="277.12" y2="259.3" stroke="#1a1a1a" stroke-width="0.9"/><rect x="275.57" y="248.9" width="3.1" height="9.6" fill="#000"/><line x1="281.01" y1="256.2" x2="281.01" y2="266.8" stroke="#1a1a1a" stroke-width="0.9"/><rect x="279.46" y="257.5" width="3.1" height="8.5" fill="#000"/><line x1="284.90" y1="264.2" x2="284.90" y2="272.0" stroke="#1a1a1a" stroke-width="0.9"/><rect x="283.35" y="265.3" width="3.1" height="2.0" fill="#000"/><line x1="288.79" y1="261.3" x2="288.79" y2="275.8" stroke="#1a1a1a" stroke-width="0.9"/><rect x="287.54" y="265.6" width="2.5" height="1.1" fill="#adadad" stroke="#262626" stroke-width="0.7"/><line x1="292.68" y1="260.1" x2="292.68" y2="284.1" stroke="#1a1a1a" stroke-width="0.9"/><rect x="291.13" y="265.5" width="3.1" height="13.0" fill="#000"/><line x1="296.57" y1="237.7" x2="296.57" y2="279.8" stroke="#1a1a1a" stroke-width="0.9"/><rect x="295.32" y="239.8" width="2.5" height="39.1" fill="#adadad" stroke="#262626" stroke-width="0.7"/><line x1="300.46" y1="224.0" x2="300.46" y2="252.2" stroke="#1a1a1a" stroke-width="0.9"/><rect x="298.91" y="240.0" width="3.1" height="5.5" fill="#000"/><line x1="304.35" y1="169.7" x2="304.35" y2="246.8" stroke="#1a1a1a" stroke-width="0.9"/><rect x="303.10" y="170.0" width="2.5" height="75.5" fill="#adadad" stroke="#262626" stroke-width="0.7"/><line x1="308.24" y1="156.6" x2="308.24" y2="201.2" stroke="#1a1a1a" stroke-width="0.9"/><rect x="306.69" y="169.7" width="3.1" height="14.3" fill="#000"/><line x1="312.13" y1="167.0" x2="312.13" y2="210.1" stroke="#1a1a1a" stroke-width="0.9"/><rect x="310.58" y="184.0" width="3.1" height="11.6" fill="#000"/><line x1="316.02" y1="186.7" x2="316.02" y2="224.0" stroke="#1a1a1a" stroke-width="0.9"/><rect x="314.77" y="190.7" width="2.5" height="5.0" fill="#adadad" stroke="#262626" stroke-width="0.7"/><line x1="319.91" y1="187.5" x2="319.91" y2="208.5" stroke="#1a1a1a" stroke-width="0.9"/><rect x="318.36" y="189.8" width="3.1" height="12.4" fill="#000"/><line x1="323.80" y1="177.1" x2="323.80" y2="221.3" stroke="#1a1a1a" stroke-width="0.9"/><rect x="322.55" y="180.2" width="2.5" height="21.7" fill="#adadad" stroke="#262626" stroke-width="0.7"/><line x1="327.69" y1="153.6" x2="327.69" y2="183.2" stroke="#1a1a1a" stroke-width="0.9"/><rect x="326.44" y="162.7" width="2.5" height="16.4" fill="#adadad" stroke="#262626" stroke-width="0.7"/><line x1="331.58" y1="153.0" x2="331.58" y2="182.8" stroke="#1a1a1a" stroke-width="0.9"/><rect x="330.03" y="162.4" width="3.1" height="8.7" fill="#000"/><line x1="335.47" y1="118.8" x2="335.47" y2="172.4" stroke="#1a1a1a" stroke-width="0.9"/><rect x="334.22" y="143.0" width="2.5" height="27.6" fill="#adadad" stroke="#262626" stroke-width="0.7"/><line x1="339.36" y1="130.2" x2="339.36" y2="170.7" stroke="#1a1a1a" stroke-width="0.9"/><rect x="338.11" y="136.2" width="2.5" height="6.2" fill="#adadad" stroke="#262626" stroke-width="0.7"/><line x1="343.25" y1="127.1" x2="343.25" y2="155.7" stroke="#1a1a1a" stroke-width="0.9"/><rect x="341.70" y="135.9" width="3.1" height="7.8" fill="#000"/><line x1="347.14" y1="124.0" x2="347.14" y2="148.8" stroke="#1a1a1a" stroke-width="0.9"/><rect x="345.89" y="130.5" width="2.5" height="12.9" fill="#adadad" stroke="#262626" stroke-width="0.7"/><line x1="351.03" y1="112.2" x2="351.03" y2="143.7" stroke="#1a1a1a" stroke-width="0.9"/><rect x="349.48" y="129.4" width="3.1" height="0.8" fill="#000"/><line x1="354.92" y1="41.7" x2="354.92" y2="135.0" stroke="#1a1a1a" stroke-width="0.9"/><rect x="353.67" y="102.1" width="2.5" height="27.8" fill="#adadad" stroke="#262626" stroke-width="0.7"/><line x1="358.81" y1="62.4" x2="358.81" y2="102.0" stroke="#1a1a1a" stroke-width="0.9"/><rect x="357.56" y="77.6" width="2.5" height="23.3" fill="#adadad" stroke="#262626" stroke-width="0.7"/><line x1="362.70" y1="76.5" x2="362.70" y2="123.0" stroke="#1a1a1a" stroke-width="0.9"/><rect x="361.15" y="77.3" width="3.1" height="31.2" fill="#000"/><line x1="366.59" y1="96.4" x2="366.59" y2="127.6" stroke="#1a1a1a" stroke-width="0.9"/><rect x="365.04" y="108.5" width="3.1" height="10.8" fill="#000"/><line x1="370.48" y1="106.8" x2="370.48" y2="132.9" stroke="#1a1a1a" stroke-width="0.9"/><rect x="369.23" y="115.4" width="2.5" height="3.6" fill="#adadad" stroke="#262626" stroke-width="0.7"/><line x1="374.37" y1="113.7" x2="374.37" y2="138.5" stroke="#1a1a1a" stroke-width="0.9"/><rect x="372.82" y="115.1" width="3.1" height="13.7" fill="#000"/><line x1="378.26" y1="109.9" x2="378.26" y2="145.0" stroke="#1a1a1a" stroke-width="0.9"/><rect x="376.71" y="128.8" width="3.1" height="15.7" fill="#000"/><line x1="382.15" y1="142.1" x2="382.15" y2="206.4" stroke="#1a1a1a" stroke-width="0.9"/><rect x="380.60" y="144.7" width="3.1" height="56.1" fill="#000"/><line x1="386.04" y1="195.0" x2="386.04" y2="237.9" stroke="#1a1a1a" stroke-width="0.9"/><rect x="384.49" y="200.8" width="3.1" height="1.4" fill="#000"/><line x1="389.93" y1="195.6" x2="389.93" y2="218.8" stroke="#1a1a1a" stroke-width="0.9"/><rect x="388.68" y="197.4" width="2.5" height="5.2" fill="#adadad" stroke="#262626" stroke-width="0.7"/><line x1="393.82" y1="196.0" x2="393.82" y2="213.7" stroke="#1a1a1a" stroke-width="0.9"/><rect x="392.27" y="197.1" width="3.1" height="4.5" fill="#000"/><line x1="397.71" y1="178.0" x2="397.71" y2="202.3" stroke="#1a1a1a" stroke-width="0.9"/><rect x="396.46" y="195.3" width="2.5" height="6.0" fill="#adadad" stroke="#262626" stroke-width="0.7"/><line x1="401.60" y1="186.1" x2="401.60" y2="201.8" stroke="#1a1a1a" stroke-width="0.9"/><rect x="400.05" y="195.0" width="3.1" height="5.8" fill="#000"/><line x1="405.49" y1="199.0" x2="405.49" y2="237.9" stroke="#1a1a1a" stroke-width="0.9"/><rect x="403.94" y="200.8" width="3.1" height="32.6" fill="#000"/><line x1="409.38" y1="213.0" x2="409.38" y2="237.5" stroke="#1a1a1a" stroke-width="0.9"/><rect x="408.13" y="225.8" width="2.5" height="7.3" fill="#adadad" stroke="#262626" stroke-width="0.7"/><line x1="413.27" y1="210.5" x2="413.27" y2="228.8" stroke="#1a1a1a" stroke-width="0.9"/><rect x="412.02" y="215.0" width="2.5" height="10.2" fill="#adadad" stroke="#262626" stroke-width="0.7"/><line x1="417.16" y1="213.0" x2="417.16" y2="221.3" stroke="#1a1a1a" stroke-width="0.9"/><rect x="415.61" y="214.7" width="3.1" height="2.5" fill="#000"/><line x1="421.05" y1="197.1" x2="421.05" y2="220.9" stroke="#1a1a1a" stroke-width="0.9"/><rect x="419.80" y="198.4" width="2.5" height="18.5" fill="#adadad" stroke="#262626" stroke-width="0.7"/><line x1="424.94" y1="188.1" x2="424.94" y2="204.3" stroke="#1a1a1a" stroke-width="0.9"/><rect x="423.69" y="191.8" width="2.5" height="5.6" fill="#adadad" stroke="#262626" stroke-width="0.7"/><line x1="428.83" y1="180.0" x2="428.83" y2="204.3" stroke="#1a1a1a" stroke-width="0.9"/><rect x="427.28" y="191.5" width="3.1" height="8.7" fill="#000"/><line x1="432.72" y1="199.0" x2="432.72" y2="231.2" stroke="#1a1a1a" stroke-width="0.9"/><rect x="431.17" y="200.2" width="3.1" height="30.5" fill="#000"/><line x1="436.61" y1="229.6" x2="436.61" y2="247.5" stroke="#1a1a1a" stroke-width="0.9"/><rect x="435.06" y="230.2" width="3.1" height="1.5" fill="#000"/><line x1="440.50" y1="230.9" x2="440.50" y2="239.6" stroke="#1a1a1a" stroke-width="0.9"/><rect x="438.95" y="231.9" width="3.1" height="5.6" fill="#000"/><line x1="444.39" y1="233.4" x2="444.39" y2="240.0" stroke="#1a1a1a" stroke-width="0.9"/><rect x="442.84" y="235.0" width="3.1" height="2.1" fill="#000"/><line x1="448.28" y1="224.0" x2="448.28" y2="238.5" stroke="#1a1a1a" stroke-width="0.9"/><rect x="447.03" y="235.3" width="2.5" height="0.5" fill="#adadad" stroke="#262626" stroke-width="0.7"/><line x1="452.17" y1="232.3" x2="452.17" y2="257.2" stroke="#1a1a1a" stroke-width="0.9"/><rect x="450.62" y="235.0" width="3.1" height="16.2" fill="#000"/><line x1="456.06" y1="247.4" x2="456.06" y2="280.6" stroke="#1a1a1a" stroke-width="0.9"/><rect x="454.51" y="251.2" width="3.1" height="17.6" fill="#000"/><line x1="459.95" y1="264.2" x2="459.95" y2="276.9" stroke="#1a1a1a" stroke-width="0.9"/><rect x="458.40" y="268.4" width="3.1" height="2.4" fill="#000"/><line x1="463.84" y1="258.2" x2="463.84" y2="278.5" stroke="#1a1a1a" stroke-width="0.9"/><rect x="462.29" y="270.0" width="3.1" height="7.0" fill="#000"/><line x1="467.73" y1="266.5" x2="467.73" y2="287.2" stroke="#1a1a1a" stroke-width="0.9"/><rect x="466.18" y="276.9" width="3.1" height="7.2" fill="#000"/><line x1="471.62" y1="278.5" x2="471.62" y2="325.2" stroke="#1a1a1a" stroke-width="0.9"/><rect x="470.07" y="284.1" width="3.1" height="23.3" fill="#000"/><line x1="475.51" y1="282.0" x2="475.51" y2="311.1" stroke="#1a1a1a" stroke-width="0.9"/><rect x="474.26" y="283.4" width="2.5" height="23.7" fill="#adadad" stroke="#262626" stroke-width="0.7"/><line x1="479.40" y1="267.5" x2="479.40" y2="287.9" stroke="#1a1a1a" stroke-width="0.9"/><rect x="478.15" y="268.9" width="2.5" height="13.8" fill="#adadad" stroke="#262626" stroke-width="0.7"/><line x1="483.29" y1="244.4" x2="483.29" y2="269.0" stroke="#1a1a1a" stroke-width="0.9"/><rect x="482.04" y="253.7" width="2.5" height="14.2" fill="#adadad" stroke="#262626" stroke-width="0.7"/><line x1="487.18" y1="206.0" x2="487.18" y2="254.0" stroke="#1a1a1a" stroke-width="0.9"/><rect x="485.93" y="207.1" width="2.5" height="45.9" fill="#adadad" stroke="#262626" stroke-width="0.7"/><line x1="491.07" y1="202.2" x2="491.07" y2="225.5" stroke="#1a1a1a" stroke-width="0.9"/><rect x="489.52" y="206.8" width="3.1" height="11.0" fill="#000"/><line x1="494.96" y1="206.8" x2="494.96" y2="220.0" stroke="#1a1a1a" stroke-width="0.9"/><rect x="493.41" y="217.2" width="3.1" height="1.6" fill="#000"/><line x1="498.85" y1="216.5" x2="498.85" y2="226.7" stroke="#1a1a1a" stroke-width="0.9"/><rect x="497.30" y="217.8" width="3.1" height="4.2" fill="#000"/><line x1="502.74" y1="219.9" x2="502.74" y2="239.2" stroke="#1a1a1a" stroke-width="0.9"/><rect x="501.19" y="220.9" width="3.1" height="12.9" fill="#000"/><line x1="506.63" y1="232.5" x2="506.63" y2="245.8" stroke="#1a1a1a" stroke-width="0.9"/><rect x="505.08" y="233.8" width="3.1" height="11.0" fill="#000"/><line x1="510.52" y1="219.9" x2="510.52" y2="248.3" stroke="#1a1a1a" stroke-width="0.9"/><rect x="509.27" y="229.1" width="2.5" height="15.4" fill="#adadad" stroke="#262626" stroke-width="0.7"/><line x1="514.41" y1="220.9" x2="514.41" y2="232.3" stroke="#1a1a1a" stroke-width="0.9"/><rect x="512.86" y="228.2" width="3.1" height="1.2" fill="#000"/><line x1="518.30" y1="227.5" x2="518.30" y2="257.8" stroke="#1a1a1a" stroke-width="0.9"/><rect x="516.75" y="228.8" width="3.1" height="22.2" fill="#000"/><line x1="522.19" y1="248.9" x2="522.19" y2="258.7" stroke="#1a1a1a" stroke-width="0.9"/><rect x="520.64" y="251.0" width="3.1" height="4.8" fill="#000"/><line x1="526.08" y1="240.6" x2="526.08" y2="258.7" stroke="#1a1a1a" stroke-width="0.9"/><rect x="524.83" y="245.5" width="2.5" height="10.4" fill="#adadad" stroke="#262626" stroke-width="0.7"/><line x1="529.97" y1="243.7" x2="529.97" y2="271.7" stroke="#1a1a1a" stroke-width="0.9"/><rect x="528.42" y="244.8" width="3.1" height="23.8" fill="#000"/><line x1="533.86" y1="262.4" x2="533.86" y2="278.6" stroke="#1a1a1a" stroke-width="0.9"/><rect x="532.61" y="263.7" width="2.5" height="4.6" fill="#adadad" stroke="#262626" stroke-width="0.7"/><line x1="537.75" y1="251.0" x2="537.75" y2="270.3" stroke="#1a1a1a" stroke-width="0.9"/><rect x="536.50" y="253.4" width="2.5" height="9.7" fill="#adadad" stroke="#262626" stroke-width="0.7"/><line x1="541.64" y1="222.6" x2="541.64" y2="257.2" stroke="#1a1a1a" stroke-width="0.9"/><rect x="540.39" y="224.3" width="2.5" height="28.5" fill="#adadad" stroke="#262626" stroke-width="0.7"/><line x1="545.53" y1="221.3" x2="545.53" y2="238.5" stroke="#1a1a1a" stroke-width="0.9"/><rect x="543.98" y="224.0" width="3.1" height="13.5" fill="#000"/><line x1="549.42" y1="236.5" x2="549.42" y2="264.5" stroke="#1a1a1a" stroke-width="0.9"/><rect x="547.87" y="237.5" width="3.1" height="21.2" fill="#000"/><line x1="553.31" y1="253.1" x2="553.31" y2="265.5" stroke="#1a1a1a" stroke-width="0.9"/><rect x="552.06" y="256.1" width="2.5" height="2.3" fill="#adadad" stroke="#262626" stroke-width="0.7"/><line x1="557.20" y1="239.6" x2="557.20" y2="256.2" stroke="#1a1a1a" stroke-width="0.9"/><rect x="555.95" y="245.7" width="2.5" height="9.8" fill="#adadad" stroke="#262626" stroke-width="0.7"/><line x1="561.09" y1="229.6" x2="561.09" y2="266.1" stroke="#1a1a1a" stroke-width="0.9"/><rect x="559.84" y="231.0" width="2.5" height="14.1" fill="#adadad" stroke="#262626" stroke-width="0.7"/><line x1="564.98" y1="196.4" x2="564.98" y2="239.2" stroke="#1a1a1a" stroke-width="0.9"/><rect x="563.73" y="201.5" width="2.5" height="28.9" fill="#adadad" stroke="#262626" stroke-width="0.7"/><line x1="568.87" y1="192.9" x2="568.87" y2="222.0" stroke="#1a1a1a" stroke-width="0.9"/><rect x="567.62" y="199.0" width="2.5" height="1.9" fill="#adadad" stroke="#262626" stroke-width="0.7"/><line x1="572.76" y1="145.8" x2="572.76" y2="200.2" stroke="#1a1a1a" stroke-width="0.9"/><rect x="571.51" y="182.8" width="2.5" height="15.6" fill="#adadad" stroke="#262626" stroke-width="0.7"/><line x1="576.65" y1="154.9" x2="576.65" y2="195.0" stroke="#1a1a1a" stroke-width="0.9"/><rect x="575.40" y="173.9" width="2.5" height="8.3" fill="#adadad" stroke="#262626" stroke-width="0.7"/><line x1="580.54" y1="151.4" x2="580.54" y2="180.5" stroke="#1a1a1a" stroke-width="0.9"/><rect x="579.29" y="172.0" width="2.5" height="1.3" fill="#adadad" stroke="#262626" stroke-width="0.7"/><line x1="584.43" y1="159.7" x2="584.43" y2="188.1" stroke="#1a1a1a" stroke-width="0.9"/><rect x="582.88" y="171.7" width="3.1" height="4.0" fill="#000"/><line x1="588.32" y1="172.8" x2="588.32" y2="204.3" stroke="#1a1a1a" stroke-width="0.9"/><rect x="586.77" y="175.7" width="3.1" height="6.2" fill="#000"/><line x1="592.21" y1="181.5" x2="592.21" y2="224.0" stroke="#1a1a1a" stroke-width="0.9"/><rect x="590.66" y="181.9" width="3.1" height="29.7" fill="#000"/><line x1="596.10" y1="203.9" x2="596.10" y2="243.7" stroke="#1a1a1a" stroke-width="0.9"/><rect x="594.55" y="211.6" width="3.1" height="10.4" fill="#000"/><line x1="599.99" y1="220.9" x2="599.99" y2="252.0" stroke="#1a1a1a" stroke-width="0.9"/><rect x="598.44" y="222.0" width="3.1" height="8.2" fill="#000"/><line x1="603.88" y1="227.1" x2="603.88" y2="234.4" stroke="#1a1a1a" stroke-width="0.9"/><rect x="602.63" y="229.1" width="2.5" height="1.3" fill="#adadad" stroke="#262626" stroke-width="0.7"/><line x1="607.77" y1="213.7" x2="607.77" y2="231.7" stroke="#1a1a1a" stroke-width="0.9"/><rect x="606.52" y="215.4" width="2.5" height="15.6" fill="#adadad" stroke="#262626" stroke-width="0.7"/><line x1="611.66" y1="203.9" x2="611.66" y2="225.1" stroke="#1a1a1a" stroke-width="0.9"/><rect x="610.11" y="215.1" width="3.1" height="7.3" fill="#000"/><line x1="615.55" y1="213.7" x2="615.55" y2="244.1" stroke="#1a1a1a" stroke-width="0.9"/><rect x="614.00" y="222.4" width="3.1" height="12.6" fill="#000"/><line x1="619.44" y1="229.2" x2="619.44" y2="245.4" stroke="#1a1a1a" stroke-width="0.9"/><rect x="617.89" y="234.4" width="3.1" height="2.1" fill="#000"/><line x1="623.33" y1="231.3" x2="623.33" y2="256.2" stroke="#1a1a1a" stroke-width="0.9"/><rect x="621.78" y="235.9" width="3.1" height="19.2" fill="#000"/><line x1="627.22" y1="250.0" x2="627.22" y2="275.3" stroke="#1a1a1a" stroke-width="0.9"/><rect x="625.67" y="255.1" width="3.1" height="15.6" fill="#000"/><line x1="631.11" y1="263.4" x2="631.11" y2="278.6" stroke="#1a1a1a" stroke-width="0.9"/><rect x="629.56" y="270.7" width="3.1" height="5.2" fill="#000"/><line x1="635.00" y1="262.4" x2="635.00" y2="276.5" stroke="#1a1a1a" stroke-width="0.9"/><rect x="633.75" y="264.8" width="2.5" height="10.8" fill="#adadad" stroke="#262626" stroke-width="0.7"/><line x1="638.89" y1="254.1" x2="638.89" y2="267.6" stroke="#1a1a1a" stroke-width="0.9"/><rect x="637.64" y="256.9" width="2.5" height="7.3" fill="#adadad" stroke="#262626" stroke-width="0.7"/><line x1="642.78" y1="254.1" x2="642.78" y2="273.8" stroke="#1a1a1a" stroke-width="0.9"/><rect x="641.23" y="256.6" width="3.1" height="15.8" fill="#000"/><line x1="646.67" y1="257.8" x2="646.67" y2="283.8" stroke="#1a1a1a" stroke-width="0.9"/><rect x="645.42" y="259.0" width="2.5" height="12.4" fill="#adadad" stroke="#262626" stroke-width="0.7"/><line x1="650.56" y1="237.9" x2="650.56" y2="262.0" stroke="#1a1a1a" stroke-width="0.9"/><rect x="649.31" y="239.5" width="2.5" height="18.9" fill="#adadad" stroke="#262626" stroke-width="0.7"/><line x1="654.45" y1="230.9" x2="654.45" y2="248.9" stroke="#1a1a1a" stroke-width="0.9"/><rect x="652.90" y="239.2" width="3.1" height="1.0" fill="#000"/><line x1="658.34" y1="227.1" x2="658.34" y2="243.3" stroke="#1a1a1a" stroke-width="0.9"/><rect x="657.09" y="236.2" width="2.5" height="4.1" fill="#adadad" stroke="#262626" stroke-width="0.7"/><line x1="662.23" y1="234.4" x2="662.23" y2="247.5" stroke="#1a1a1a" stroke-width="0.9"/><rect x="660.68" y="235.4" width="3.1" height="11.4" fill="#000"/><line x1="666.12" y1="239.2" x2="666.12" y2="259.9" stroke="#1a1a1a" stroke-width="0.9"/><rect x="664.57" y="246.8" width="3.1" height="7.7" fill="#000"/><line x1="670.01" y1="242.7" x2="670.01" y2="259.9" stroke="#1a1a1a" stroke-width="0.9"/><rect x="668.76" y="243.6" width="2.5" height="10.6" fill="#adadad" stroke="#262626" stroke-width="0.7"/><line x1="673.90" y1="146.2" x2="673.90" y2="250.0" stroke="#1a1a1a" stroke-width="0.9"/><rect x="672.65" y="185.5" width="2.5" height="57.5" fill="#adadad" stroke="#262626" stroke-width="0.7"/><line x1="677.79" y1="180.5" x2="677.79" y2="237.5" stroke="#1a1a1a" stroke-width="0.9"/><rect x="676.24" y="185.2" width="3.1" height="41.9" fill="#000"/><line x1="681.68" y1="207.4" x2="681.68" y2="239.2" stroke="#1a1a1a" stroke-width="0.9"/><rect x="680.43" y="222.3" width="2.5" height="4.5" fill="#adadad" stroke="#262626" stroke-width="0.7"/><line x1="685.57" y1="217.8" x2="685.57" y2="232.3" stroke="#1a1a1a" stroke-width="0.9"/><rect x="684.02" y="219.9" width="3.1" height="1.4" fill="#000"/><line x1="689.46" y1="205.4" x2="689.46" y2="222.0" stroke="#1a1a1a" stroke-width="0.9"/><rect x="688.21" y="216.0" width="2.5" height="4.6" fill="#adadad" stroke="#262626" stroke-width="0.7"/><line x1="693.35" y1="215.1" x2="693.35" y2="248.9" stroke="#1a1a1a" stroke-width="0.9"/><rect x="691.80" y="215.7" width="3.1" height="19.1" fill="#000"/><line x1="697.24" y1="230.9" x2="697.24" y2="254.1" stroke="#1a1a1a" stroke-width="0.9"/><rect x="695.69" y="234.8" width="3.1" height="18.7" fill="#000"/><line x1="701.13" y1="223.0" x2="701.13" y2="254.1" stroke="#1a1a1a" stroke-width="0.9"/><rect x="699.88" y="224.7" width="2.5" height="28.5" fill="#adadad" stroke="#262626" stroke-width="0.7"/><line x1="705.02" y1="200.2" x2="705.02" y2="227.1" stroke="#1a1a1a" stroke-width="0.9"/><rect x="703.77" y="217.7" width="2.5" height="6.4" fill="#adadad" stroke="#262626" stroke-width="0.7"/><line x1="708.91" y1="191.9" x2="708.91" y2="226.1" stroke="#1a1a1a" stroke-width="0.9"/><rect x="707.66" y="195.9" width="2.5" height="21.2" fill="#adadad" stroke="#262626" stroke-width="0.7"/><line x1="712.80" y1="190.8" x2="712.80" y2="212.6" stroke="#1a1a1a" stroke-width="0.9"/><rect x="711.25" y="195.6" width="3.1" height="11.2" fill="#000"/><line x1="716.69" y1="201.2" x2="716.69" y2="218.8" stroke="#1a1a1a" stroke-width="0.9"/><rect x="715.14" y="206.8" width="3.1" height="5.8" fill="#000"/><line x1="720.58" y1="211.6" x2="720.58" y2="243.3" stroke="#1a1a1a" stroke-width="0.9"/><rect x="719.03" y="212.6" width="3.1" height="29.7" fill="#000"/><line x1="724.47" y1="211.6" x2="724.47" y2="246.2" stroke="#1a1a1a" stroke-width="0.9"/><rect x="723.22" y="216.6" width="2.5" height="25.4" fill="#adadad" stroke="#262626" stroke-width="0.7"/><line x1="728.36" y1="209.5" x2="728.36" y2="223.0" stroke="#1a1a1a" stroke-width="0.9"/><rect x="726.81" y="216.3" width="3.1" height="6.1" fill="#000"/><line x1="732.25" y1="215.7" x2="732.25" y2="228.2" stroke="#1a1a1a" stroke-width="0.9"/><rect x="730.70" y="222.0" width="3.1" height="2.0" fill="#000"/><line x1="736.14" y1="219.9" x2="736.14" y2="238.5" stroke="#1a1a1a" stroke-width="0.9"/><rect x="734.59" y="224.0" width="3.1" height="9.8" fill="#000"/><line x1="740.03" y1="229.2" x2="740.03" y2="237.5" stroke="#1a1a1a" stroke-width="0.9"/><rect x="738.78" y="232.6" width="2.5" height="1.5" fill="#adadad" stroke="#262626" stroke-width="0.7"/><line x1="743.92" y1="225.5" x2="743.92" y2="235.0" stroke="#1a1a1a" stroke-width="0.9"/><rect x="742.37" y="232.9" width="3.1" height="1.5" fill="#000"/><line x1="747.81" y1="210.5" x2="747.81" y2="241.2" stroke="#1a1a1a" stroke-width="0.9"/><rect x="746.56" y="216.6" width="2.5" height="17.5" fill="#adadad" stroke="#262626" stroke-width="0.7"/><line x1="751.70" y1="91.9" x2="751.70" y2="217.0" stroke="#1a1a1a" stroke-width="0.9"/><rect x="750.45" y="145.7" width="2.5" height="70.3" fill="#adadad" stroke="#262626" stroke-width="0.7"/><line x1="755.59" y1="128.2" x2="755.59" y2="211.7" stroke="#1a1a1a" stroke-width="0.9"/><rect x="754.04" y="145.4" width="3.1" height="23.6" fill="#000"/><line x1="759.48" y1="158.9" x2="759.48" y2="204.3" stroke="#1a1a1a" stroke-width="0.9"/><rect x="757.93" y="169.0" width="3.1" height="26.1" fill="#000"/><line x1="763.37" y1="176.9" x2="763.37" y2="204.3" stroke="#1a1a1a" stroke-width="0.9"/><rect x="761.82" y="195.1" width="3.1" height="1.5" fill="#000"/><line x1="767.26" y1="186.2" x2="767.26" y2="203.4" stroke="#1a1a1a" stroke-width="0.9"/><rect x="765.71" y="195.1" width="3.1" height="1.5" fill="#000"/><line x1="771.15" y1="183.7" x2="771.15" y2="196.3" stroke="#1a1a1a" stroke-width="0.9"/><rect x="769.90" y="189.0" width="2.5" height="6.2" fill="#adadad" stroke="#262626" stroke-width="0.7"/><line x1="775.04" y1="184.1" x2="775.04" y2="191.8" stroke="#1a1a1a" stroke-width="0.9"/><rect x="773.79" y="186.5" width="2.5" height="1.9" fill="#adadad" stroke="#262626" stroke-width="0.7"/><line x1="778.93" y1="176.4" x2="778.93" y2="197.2" stroke="#1a1a1a" stroke-width="0.9"/><rect x="777.68" y="185.5" width="2.5" height="1.0" fill="#adadad" stroke="#262626" stroke-width="0.7"/><line x1="782.82" y1="168.6" x2="782.82" y2="188.9" stroke="#1a1a1a" stroke-width="0.9"/><rect x="781.57" y="176.5" width="2.5" height="8.4" fill="#adadad" stroke="#262626" stroke-width="0.7"/><line x1="786.71" y1="166.5" x2="786.71" y2="188.3" stroke="#1a1a1a" stroke-width="0.9"/><rect x="785.16" y="175.8" width="3.1" height="1.1" fill="#000"/><line x1="790.60" y1="171.7" x2="790.60" y2="183.7" stroke="#1a1a1a" stroke-width="0.9"/><rect x="789.35" y="173.4" width="2.5" height="2.7" fill="#adadad" stroke="#262626" stroke-width="0.7"/><line x1="794.49" y1="152.0" x2="794.49" y2="174.8" stroke="#1a1a1a" stroke-width="0.9"/><rect x="793.24" y="160.4" width="2.5" height="12.3" fill="#adadad" stroke="#262626" stroke-width="0.7"/><line x1="798.38" y1="157.7" x2="798.38" y2="183.1" stroke="#1a1a1a" stroke-width="0.9"/><rect x="796.83" y="160.1" width="3.1" height="15.7" fill="#000"/><line x1="802.27" y1="170.7" x2="802.27" y2="184.1" stroke="#1a1a1a" stroke-width="0.9"/><rect x="801.02" y="172.2" width="2.5" height="3.3" fill="#adadad" stroke="#262626" stroke-width="0.7"/><line x1="806.16" y1="161.3" x2="806.16" y2="175.4" stroke="#1a1a1a" stroke-width="0.9"/><rect x="804.91" y="164.9" width="2.5" height="6.2" fill="#adadad" stroke="#262626" stroke-width="0.7"/><line x1="810.05" y1="159.2" x2="810.05" y2="176.9" stroke="#1a1a1a" stroke-width="0.9"/><rect x="808.80" y="162.2" width="2.5" height="2.0" fill="#adadad" stroke="#262626" stroke-width="0.7"/><line x1="813.94" y1="117.8" x2="813.94" y2="163.8" stroke="#1a1a1a" stroke-width="0.9"/><rect x="812.69" y="133.7" width="2.5" height="28.0" fill="#adadad" stroke="#262626" stroke-width="0.7"/><line x1="817.83" y1="112.6" x2="817.83" y2="153.8" stroke="#1a1a1a" stroke-width="0.9"/><rect x="816.28" y="133.4" width="3.1" height="16.6" fill="#000"/><line x1="821.72" y1="116.8" x2="821.72" y2="150.0" stroke="#1a1a1a" stroke-width="0.9"/><rect x="820.47" y="123.7" width="2.5" height="25.5" fill="#adadad" stroke="#262626" stroke-width="0.7"/><line x1="825.61" y1="107.4" x2="825.61" y2="135.4" stroke="#1a1a1a" stroke-width="0.9"/><rect x="824.06" y="123.4" width="3.1" height="7.5" fill="#000"/><line x1="829.50" y1="128.2" x2="829.50" y2="175.8" stroke="#1a1a1a" stroke-width="0.9"/><rect x="827.95" y="130.9" width="3.1" height="10.8" fill="#000"/><line x1="833.39" y1="126.7" x2="833.39" y2="153.1" stroke="#1a1a1a" stroke-width="0.9"/><rect x="832.14" y="129.7" width="2.5" height="11.7" fill="#adadad" stroke="#262626" stroke-width="0.7"/><line x1="837.28" y1="108.9" x2="837.28" y2="130.2" stroke="#1a1a1a" stroke-width="0.9"/><rect x="836.03" y="121.8" width="2.5" height="7.1" fill="#adadad" stroke="#262626" stroke-width="0.7"/><line x1="841.17" y1="112.6" x2="841.17" y2="147.9" stroke="#1a1a1a" stroke-width="0.9"/><rect x="839.62" y="121.5" width="3.1" height="24.3" fill="#000"/><line x1="845.06" y1="132.3" x2="845.06" y2="151.0" stroke="#1a1a1a" stroke-width="0.9"/><rect x="843.81" y="134.7" width="2.5" height="10.8" fill="#adadad" stroke="#262626" stroke-width="0.7"/><line x1="848.95" y1="131.0" x2="848.95" y2="143.7" stroke="#1a1a1a" stroke-width="0.9"/><rect x="847.40" y="134.1" width="3.1" height="5.1" fill="#000"/><line x1="852.84" y1="136.5" x2="852.84" y2="151.0" stroke="#1a1a1a" stroke-width="0.9"/><rect x="851.29" y="137.3" width="3.1" height="1.9" fill="#000"/><line x1="856.73" y1="118.4" x2="856.73" y2="140.0" stroke="#1a1a1a" stroke-width="0.9"/><rect x="855.48" y="121.8" width="2.5" height="16.4" fill="#adadad" stroke="#262626" stroke-width="0.7"/><line x1="860.62" y1="120.9" x2="860.62" y2="141.7" stroke="#1a1a1a" stroke-width="0.9"/><rect x="859.07" y="122.0" width="3.1" height="12.4" fill="#000"/><line x1="864.51" y1="121.3" x2="864.51" y2="135.0" stroke="#1a1a1a" stroke-width="0.9"/><rect x="863.26" y="122.7" width="2.5" height="11.0" fill="#adadad" stroke="#262626" stroke-width="0.7"/><line x1="868.40" y1="117.2" x2="868.40" y2="131.3" stroke="#1a1a1a" stroke-width="0.9"/><rect x="866.85" y="121.3" width="3.1" height="1.1" fill="#000"/><line x1="872.29" y1="117.8" x2="872.29" y2="135.0" stroke="#1a1a1a" stroke-width="0.9"/><rect x="871.04" y="119.8" width="2.5" height="1.4" fill="#adadad" stroke="#262626" stroke-width="0.7"/><line x1="876.18" y1="78.4" x2="876.18" y2="124.6" stroke="#1a1a1a" stroke-width="0.9"/><rect x="874.93" y="90.5" width="2.5" height="28.7" fill="#adadad" stroke="#262626" stroke-width="0.7"/><line x1="880.07" y1="71.1" x2="880.07" y2="102.2" stroke="#1a1a1a" stroke-width="0.9"/><rect x="878.82" y="79.1" width="2.5" height="10.8" fill="#adadad" stroke="#262626" stroke-width="0.7"/><line x1="883.96" y1="65.9" x2="883.96" y2="87.7" stroke="#1a1a1a" stroke-width="0.9"/><rect x="882.41" y="78.0" width="3.1" height="0.9" fill="#000"/><line x1="887.85" y1="54.9" x2="887.85" y2="103.9" stroke="#1a1a1a" stroke-width="0.9"/><rect x="886.30" y="78.4" width="3.1" height="21.8" fill="#000"/><line x1="891.74" y1="54.9" x2="891.74" y2="100.8" stroke="#1a1a1a" stroke-width="0.9"/><rect x="890.49" y="65.2" width="2.5" height="34.7" fill="#adadad" stroke="#262626" stroke-width="0.7"/><line x1="895.63" y1="50.4" x2="895.63" y2="75.3" stroke="#1a1a1a" stroke-width="0.9"/><rect x="894.38" y="62.7" width="2.5" height="1.9" fill="#adadad" stroke="#262626" stroke-width="0.7"/><line x1="899.52" y1="60.3" x2="899.52" y2="268.6" stroke="#1a1a1a" stroke-width="0.9"/><rect x="897.97" y="62.4" width="3.1" height="113.4" fill="#000"/><line x1="903.41" y1="163.4" x2="903.41" y2="228.7" stroke="#1a1a1a" stroke-width="0.9"/><rect x="901.86" y="175.8" width="3.1" height="31.8" fill="#000"/><line x1="907.30" y1="164.4" x2="907.30" y2="228.7" stroke="#1a1a1a" stroke-width="0.9"/><rect x="906.05" y="170.5" width="2.5" height="37.2" fill="#adadad" stroke="#262626" stroke-width="0.7"/><line x1="911.19" y1="151.2" x2="911.19" y2="209.6" stroke="#1a1a1a" stroke-width="0.9"/><rect x="909.64" y="170.2" width="3.1" height="2.4" fill="#000"/><line x1="915.08" y1="168.8" x2="915.08" y2="217.3" stroke="#1a1a1a" stroke-width="0.9"/><rect x="913.53" y="172.3" width="3.1" height="15.6" fill="#000"/><line x1="918.97" y1="179.4" x2="918.97" y2="205.8" stroke="#1a1a1a" stroke-width="0.9"/><rect x="917.42" y="187.9" width="3.1" height="17.0" fill="#000"/><line x1="922.86" y1="187.2" x2="922.86" y2="217.7" stroke="#1a1a1a" stroke-width="0.9"/><rect x="921.31" y="204.9" width="3.1" height="7.2" fill="#000"/><line x1="926.75" y1="208.0" x2="926.75" y2="250.5" stroke="#1a1a1a" stroke-width="0.9"/><rect x="925.20" y="212.1" width="3.1" height="16.2" fill="#000"/><line x1="930.64" y1="211.1" x2="930.64" y2="229.0" stroke="#1a1a1a" stroke-width="0.9"/><rect x="929.39" y="216.0" width="2.5" height="12.0" fill="#adadad" stroke="#262626" stroke-width="0.7"/><line x1="934.53" y1="204.9" x2="934.53" y2="225.6" stroke="#1a1a1a" stroke-width="0.9"/><rect x="933.28" y="212.4" width="2.5" height="3.0" fill="#adadad" stroke="#262626" stroke-width="0.7"/><line x1="938.42" y1="200.1" x2="938.42" y2="220.4" stroke="#1a1a1a" stroke-width="0.9"/><rect x="936.87" y="211.1" width="3.1" height="3.5" fill="#000"/><line x1="942.31" y1="207.6" x2="942.31" y2="235.0" stroke="#1a1a1a" stroke-width="0.9"/><rect x="940.76" y="214.2" width="3.1" height="11.4" fill="#000"/><line x1="946.20" y1="222.5" x2="946.20" y2="237.0" stroke="#1a1a1a" stroke-width="0.9"/><rect x="944.65" y="225.2" width="3.1" height="10.8" fill="#000"/><line x1="950.09" y1="213.2" x2="950.09" y2="237.4" stroke="#1a1a1a" stroke-width="0.9"/><rect x="948.84" y="217.6" width="2.5" height="18.5" fill="#adadad" stroke="#262626" stroke-width="0.7"/><line x1="953.98" y1="206.3" x2="953.98" y2="219.4" stroke="#1a1a1a" stroke-width="0.9"/><rect x="952.73" y="212.4" width="2.5" height="4.6" fill="#adadad" stroke="#262626" stroke-width="0.7"/><line x1="957.87" y1="209.6" x2="957.87" y2="216.3" stroke="#1a1a1a" stroke-width="0.9"/><rect x="956.32" y="211.7" width="3.1" height="1.9" fill="#000"/><line x1="961.76" y1="191.0" x2="961.76" y2="213.8" stroke="#1a1a1a" stroke-width="0.9"/><rect x="960.51" y="194.4" width="2.5" height="17.9" fill="#adadad" stroke="#262626" stroke-width="0.7"/><line x1="965.65" y1="184.1" x2="965.65" y2="198.7" stroke="#1a1a1a" stroke-width="0.9"/><rect x="964.10" y="193.6" width="3.1" height="1.0" fill="#000"/><line x1="969.54" y1="193.5" x2="969.54" y2="215.7" stroke="#1a1a1a" stroke-width="0.9"/><rect x="967.99" y="194.5" width="3.1" height="16.6" fill="#000"/><line x1="973.43" y1="207.6" x2="973.43" y2="222.1" stroke="#1a1a1a" stroke-width="0.9"/><rect x="971.88" y="211.1" width="3.1" height="8.3" fill="#000"/><line x1="977.32" y1="215.2" x2="977.32" y2="250.1" stroke="#1a1a1a" stroke-width="0.9"/><rect x="975.77" y="219.4" width="3.1" height="17.6" fill="#000"/><line x1="981.21" y1="231.8" x2="981.21" y2="244.3" stroke="#1a1a1a" stroke-width="0.9"/><rect x="979.66" y="236.0" width="3.1" height="1.0" fill="#000"/><line x1="985.10" y1="231.8" x2="985.10" y2="239.1" stroke="#1a1a1a" stroke-width="0.9"/><rect x="983.85" y="234.8" width="2.5" height="2.3" fill="#adadad" stroke="#262626" stroke-width="0.7"/><line x1="988.99" y1="231.2" x2="988.99" y2="243.3" stroke="#1a1a1a" stroke-width="0.9"/><rect x="987.74" y="234.2" width="2.5" height="2.5" fill="#adadad" stroke="#262626" stroke-width="0.7"/><line x1="992.88" y1="236.0" x2="992.88" y2="411.3" stroke="#1a1a1a" stroke-width="0.9"/><rect x="991.33" y="236.5" width="3.1" height="109.5" fill="#000"/><line x1="996.77" y1="336.5" x2="996.77" y2="353.1" stroke="#1a1a1a" stroke-width="0.9"/><rect x="995.22" y="345.7" width="3.1" height="6.7" fill="#000"/><line x1="6.3" y1="174.8" x2="6.3" y2="206.5" stroke="#4a4a4a" stroke-width="0.8"/></g>
<polyline points="5.2,355.5 12.4,352.4 20.7,351.0 29.0,349.9 37.3,348.3 45.6,346.2 53.9,343.5 62.2,342.0 70.5,341.0 78.8,339.5 87.1,337.5 95.4,335.4 103.7,332.7 114.1,329.6 122.4,326.5 130.7,323.4 139.0,320.5 147.3,318.6 155.6,316.5 166.0,314.6 176.3,314.0 186.7,313.0 197.1,311.5 207.5,310.3 217.8,308.4 228.2,306.8 238.6,305.1 250.0,304.0 260.4,302.8 270.7,301.3 281.1,300.3 291.5,299.7 299.8,298.7 308.1,296.2 316.4,293.9 324.7,291.8 333.0,288.9 341.3,285.8 349.6,282.7 357.9,278.5 366.2,274.8 374.5,271.6 382.8,269.5 395.2,267.4 405.6,266.0 416.0,264.7 426.3,263.2 436.7,262.2 447.1,261.6 457.5,261.6 467.8,262.3 478.2,262.6 488.6,261.6 500.0,260.5 510.4,259.7 520.7,259.3 531.1,259.3 541.5,258.9 551.9,258.7 562.2,257.8 570.5,256.2 578.8,254.5 587.1,253.1 599.6,252.4 612.0,252.0 624.5,251.6 636.9,252.0 649.4,252.0 661.8,251.6 674.3,251.0 686.7,250.0 697.1,248.9 707.5,248.3 717.8,247.5 728.2,246.8 738.6,246.2 750.0,245.3 760.4,243.7 770.7,242.2 781.1,240.6 791.5,238.7 801.9,237.0 812.2,235.0 822.6,232.3 833.0,229.8 843.4,227.3 853.7,224.6 864.1,221.9 874.5,219.0 884.9,215.7 895.2,212.1 905.6,211.1 916.0,210.5 926.3,210.5 936.7,211.1 947.1,211.1 957.5,211.1 967.8,210.7 978.2,211.1 988.6,212.1 997.9,215.2" fill="none" stroke="#9c27b0" stroke-width="1.5" stroke-linejoin="round" stroke-linecap="round" />
<polyline points="5.2,171.4 13.5,172.4 22.8,178.8 32.2,184.7 41.5,188.2 51.9,190.0 60.2,191.5 68.5,196.7 76.8,200.4 85.1,202.9 93.4,204.6 101.7,205.4 110.0,205.6 118.3,205.2 126.6,203.5 134.9,202.3 143.2,202.9 153.5,204.4 166.0,206.0 172.2,208.7 180.5,212.2 188.8,214.9 197.1,217.0 207.5,219.5 217.8,221.6 228.2,222.6 238.6,223.7 250.0,224.8 260.4,226.5 270.7,228.2 281.1,230.2 291.5,232.3 299.8,232.7 308.1,231.3 316.4,229.2 324.7,227.1 333.0,224.0 341.3,220.9 349.6,217.4 357.9,212.6 366.2,208.0 374.5,204.7 380.7,203.3 386.9,202.9 395.2,202.2 403.5,202.2 411.8,203.3 420.1,204.3 428.4,204.3 436.7,205.4 447.1,207.0 457.5,209.9 467.8,213.7 476.1,216.8 484.4,217.8 492.7,217.8 500.0,218.0 508.3,218.4 516.6,219.3 524.9,220.5 533.2,222.0 541.5,223.4 549.8,224.4 558.1,225.1 566.4,224.0 574.7,222.0 583.0,219.9 591.3,218.8 599.6,219.3 607.9,219.9 616.2,220.5 624.5,221.5 632.8,223.4 641.1,225.1 649.4,226.1 657.7,227.1 666.0,228.2 671.2,228.2 678.4,227.1 686.7,227.1 697.1,226.7 707.5,226.1 717.8,225.5 728.2,225.5 738.6,226.1 750.0,225.8 758.3,222.5 766.6,220.9 774.9,219.4 783.2,217.7 791.5,216.3 799.8,214.6 808.1,212.6 816.4,209.4 824.7,205.9 833.0,202.8 841.3,200.1 849.6,197.6 857.9,194.9 866.2,191.8 874.5,188.7 882.8,184.5 889.0,181.0 895.2,177.5 901.5,177.5 911.8,177.9 920.1,178.9 928.4,180.6 936.7,182.1 947.1,183.7 957.5,185.2 967.8,186.6 978.2,188.9 986.5,191.0 991.7,193.5 997.9,197.6" fill="none" stroke="#2962ff" stroke-width="1.5" stroke-linejoin="round" stroke-linecap="round" />
<polyline points="5.2,58.3 12.4,65.6 20.7,85.3 27.0,98.8 32.2,110.2 39.4,121.6 47.7,132.0 56.0,139.2 62.2,145.4 68.5,154.8 72.6,161.4 75.7,165.1 83.0,172.6 91.3,178.8 97.5,182.0 105.8,184.5 114.1,186.3 122.4,185.8 130.7,183.7 135.9,183.3 143.2,185.9 153.5,189.9 163.9,194.6 170.1,198.1 176.3,205.0 182.6,210.2 190.9,215.4 199.2,219.9 207.5,224.1 215.8,227.2 224.1,228.4 234.4,229.3 242.7,230.9 250.0,231.9 260.4,234.4 270.7,237.1 281.1,239.6 289.4,241.7 294.6,242.7 299.8,241.2 306.0,239.2 312.2,235.4 320.5,232.3 326.8,229.6 333.0,225.1 339.2,219.9 345.4,214.7 351.7,208.9 357.9,201.8 364.1,195.0 370.3,189.8 376.6,186.7 380.7,186.1 386.9,187.7 395.2,188.3 403.5,189.8 411.8,192.5 418.0,193.9 424.3,194.4 430.5,194.4 436.7,197.1 447.1,200.8 457.5,206.4 465.8,212.6 474.1,219.5 480.3,222.4 484.4,223.0 492.7,222.6 500.0,223.0 508.3,224.0 516.6,225.7 524.9,227.6 533.2,229.6 541.5,231.3 549.8,232.7 557.1,233.4 564.3,231.9 570.5,229.2 576.8,225.5 583.0,222.4 589.2,220.5 595.4,220.5 603.7,220.9 612.0,221.5 618.3,222.6 624.5,224.6 632.8,228.2 641.1,230.7 649.4,232.3 657.7,233.4 666.0,234.8 671.2,235.0 676.3,232.3 686.7,231.3 695.0,230.9 703.3,229.8 711.6,228.6 719.9,228.2 728.2,228.2 738.6,228.8 750.0,226.6 758.3,221.5 766.6,219.0 774.9,216.3 783.2,213.2 791.5,210.1 799.8,206.5 808.1,203.4 816.4,198.0 824.7,192.4 833.0,187.2 841.3,183.1 849.6,179.4 857.9,175.4 866.2,171.1 874.5,166.1 882.8,159.2 889.0,154.0 895.2,149.5 899.4,150.9 903.5,152.4 911.8,154.0 920.1,157.8 928.4,163.4 936.7,168.2 945.0,172.7 953.3,175.8 961.6,177.3 969.9,178.9 978.2,182.1 986.5,187.2 990.7,191.4 994.8,198.7 997.9,202.4" fill="none" stroke="#fb2d36" stroke-width="1.5" stroke-linejoin="round" stroke-linecap="round" />
<polygon points="990.2,516.9 997.3,516.9 997.3,529.6 993.2,528.8" fill="url(#os)"/>
<polyline points="4.8,509.4 8.8,510.5 12.6,511.7 16.6,513.0 20.4,514.2 24.4,514.4 28.2,514.7 32.0,514.2 36.0,513.0 39.8,511.9 43.8,510.9 47.6,509.7 51.6,508.1 55.4,506.9 59.2,506.4 63.2,506.4 67.0,505.9 71.0,504.7 74.8,503.4 78.8,502.2 82.7,500.6 86.5,499.4 90.5,498.4 94.3,497.3 98.3,496.4 102.1,495.3 106.1,494.8 109.9,494.4 113.9,493.9 117.7,491.9 121.5,489.8 125.5,488.1 129.3,486.5 133.3,484.8 137.1,483.6 141.1,483.5 144.9,483.5 148.9,483.8 152.7,484.3 156.5,485.1 160.5,486.1 164.3,486.5 168.3,487.8 172.1,489.8 176.1,492.3 179.9,494.4 183.7,496.4 187.7,498.1 191.5,498.4 195.5,498.4 199.3,498.4 203.2,498.4 207.1,498.9 210.9,498.6 214.9,498.4 218.8,497.8 222.7,496.4 226.6,494.8 230.4,493.1 234.4,491.4 238.2,490.3 242.2,489.3 246.0,489.0 250.0,488.6 253.8,488.6 257.8,488.5 261.6,488.5 265.4,488.5 269.4,488.5 273.2,488.5 277.2,489.0 281.0,489.5 285.0,490.3 288.8,491.4 292.6,492.3 296.6,491.9 300.4,491.4 304.4,489.5 308.2,487.8 312.2,486.0 316.0,484.3 319.8,482.8 323.8,481.2 327.6,479.8 331.6,477.8 335.4,475.7 339.4,473.2 343.2,470.7 347.2,468.6 351.0,466.9 354.9,465.4 358.8,464.6 362.7,464.6 366.6,464.4 370.5,464.4 374.4,464.4 378.3,465.4 382.1,467.4 386.1,469.9 389.9,472.4 393.9,475.2 397.7,477.7 401.7,479.3 405.5,482.3 409.5,485.6 413.3,489.0 417.1,491.9 421.1,493.6 424.9,495.3 428.9,496.4 432.7,497.8 436.7,498.1 440.5,498.4 444.3,498.9 448.3,499.4 452.1,500.6 456.1,501.4 459.9,502.6 463.9,503.6 467.7,505.2 471.7,506.7 475.5,507.7 479.3,508.6 483.3,508.6 487.1,506.9 491.1,505.2 494.9,503.9 498.9,502.6 502.7,501.4 506.6,500.2 510.5,498.1 514.4,496.1 518.3,494.3 522.2,492.3 526.1,490.3 530.0,489.8 533.9,489.5 537.8,489.5 541.6,489.8 545.6,490.3 549.4,491.1 553.4,491.9 557.2,491.9 561.2,491.1 565.0,490.1 569.0,489.0 572.8,487.0 576.6,484.8 580.6,482.8 584.4,481.0 588.4,479.0 592.2,478.5 596.2,479.3 600.0,479.5 603.8,479.3 607.8,478.7 611.6,478.7 615.6,479.8 619.4,481.5 623.4,484.0 627.2,487.0 631.2,490.1 635.0,492.8 638.8,495.3 642.8,497.3 646.6,497.8 650.6,497.6 654.4,497.6 658.4,497.3 662.2,497.6 666.1,497.8 670.0,497.3 673.9,495.6 677.8,493.9 681.7,492.3 685.6,490.3 689.5,488.6 693.4,487.6 697.3,487.0 701.1,486.1 705.1,485.1 708.9,484.5 712.9,484.0 716.7,483.5 720.7,483.5 724.5,483.6 728.3,484.0 732.3,484.5 736.1,485.1 740.1,485.6 743.9,486.5 747.9,485.1 751.7,483.5 755.7,483.1 759.5,483.1 763.3,483.1 767.3,483.5 771.1,483.1 775.1,482.3 778.9,481.5 782.9,480.7 786.7,479.8 790.5,478.7 794.5,477.3 798.3,476.5 802.3,476.2 806.1,477.3 810.1,477.3 813.9,475.7 817.8,474.5 821.7,473.5 825.6,472.7 829.5,471.9 833.4,471.2 837.3,471.0 841.2,471.2 845.1,471.5 849.0,471.9 852.8,471.9 856.8,471.5 860.6,471.9 864.6,472.4 868.4,472.9 872.4,472.7 876.2,472.4 880.0,471.5 884.0,471.2 887.8,471.0 891.8,470.4 895.6,469.1 899.6,471.9 903.4,474.0 907.4,475.4 911.2,476.9 915.0,478.5 919.0,481.0 922.8,483.5 926.8,486.1 930.6,489.0 934.6,492.3 938.4,495.3 942.2,498.1 946.2,501.1 950.0,503.9 954.0,503.6 957.8,503.1 961.8,502.7 965.6,502.2 969.6,501.9 973.4,501.6 977.3,501.4 981.2,501.4 985.1,501.4 989.0,501.4 992.9,503.4 996.9,505.1" fill="none" stroke="#fdd835" stroke-width="0.9" stroke-linejoin="round" stroke-linecap="round" />
<polygon points="352.2,459.5 354.9,455.8 358.8,450.8 361.3,459.5" fill="#4caf50" fill-opacity="0.07"/>
<polygon points="879.7,459.5 880.1,459.1 884.0,458.6 884.2,459.5" fill="#4caf50" fill-opacity="0.07"/>
<polyline points="4.8,505.6 8.7,503.1 12.6,509.7 16.5,515.5 20.4,518.5 24.3,515.5 28.2,516.0 32.0,514.4 35.9,501.4 39.8,505.2 43.7,505.2 47.6,500.6 51.5,492.8 55.4,495.9 59.3,495.3 63.2,502.2 67.1,509.4 71.0,500.9 74.8,501.4 78.7,501.1 82.6,495.6 86.5,492.3 90.4,494.4 94.3,491.4 98.2,487.3 102.1,482.3 106.0,486.1 109.8,486.5 113.7,485.1 117.6,477.8 121.5,479.0 125.4,477.3 129.3,474.9 133.2,475.4 137.1,483.1 141.0,491.8 144.9,493.9 148.8,496.8 152.6,489.8 156.5,495.3 160.4,495.3 164.3,493.9 168.2,496.9 172.1,510.2 176.0,508.1 179.9,511.7 183.8,497.3 187.7,500.6 191.5,495.6 195.4,490.3 199.3,496.0 203.2,493.4 207.1,496.1 211.0,493.9 214.9,489.5 218.8,488.6 222.7,482.8 226.6,488.1 230.4,487.0 234.3,480.7 238.2,484.8 242.1,489.0 246.0,487.8 249.9,489.8 253.8,492.3 257.7,490.3 261.6,491.9 265.4,492.6 269.3,491.8 273.2,487.6 277.1,491.4 281.0,495.3 284.9,496.4 288.8,495.6 292.7,501.9 296.6,480.3 300.5,483.5 304.4,460.2 308.2,466.6 312.1,471.5 316.0,470.4 319.9,475.7 323.8,469.9 327.7,465.2 331.6,468.7 335.5,462.4 339.4,460.4 343.2,464.4 347.1,461.2 351.0,461.1 354.9,455.8 358.8,450.8 362.7,464.1 366.6,469.5 370.5,468.7 374.4,474.0 378.3,480.3 382.1,498.1 386.0,499.2 389.9,497.3 393.8,498.4 397.7,495.6 401.6,497.3 405.5,507.2 409.4,503.1 413.3,498.9 417.2,499.4 421.1,491.4 424.9,489.0 428.8,492.8 432.7,502.2 436.6,503.1 440.5,504.2 444.4,503.6 448.3,503.4 452.2,508.9 456.1,514.2 459.9,515.0 463.8,516.9 467.7,518.8 471.6,524.6 475.5,509.7 479.4,502.2 483.3,494.8 487.2,477.8 491.1,481.2 495.0,482.0 498.9,483.1 502.7,488.1 506.6,492.6 510.5,486.5 514.4,486.5 518.3,494.8 522.2,496.9 526.1,492.3 530.0,500.6 533.9,498.1 537.8,493.1 541.6,481.8 545.5,486.5 549.4,494.4 553.3,493.9 557.2,489.3 561.1,482.7 565.0,474.0 568.9,472.7 572.8,467.9 576.6,465.4 580.5,465.2 584.4,466.6 588.3,470.7 592.2,484.5 596.1,489.8 600.0,493.1 603.9,493.4 607.8,486.5 611.7,489.8 615.5,494.8 619.4,495.6 623.3,503.1 627.2,508.6 631.1,510.5 635.0,504.2 638.9,498.9 642.8,504.7 646.7,496.9 650.6,488.5 654.5,488.5 658.3,486.5 662.2,491.1 666.1,495.3 670.0,489.5 673.9,467.9 677.8,484.8 681.7,483.5 685.6,482.8 689.5,481.0 693.4,488.6 697.2,495.1 701.1,484.8 705.0,482.0 708.9,475.4 712.8,479.8 716.7,482.8 720.6,492.8 724.5,484.3 728.4,486.1 732.2,487.0 736.1,490.6 740.0,490.3 743.9,490.6 747.8,482.8 751.7,463.2 755.6,472.4 759.5,481.2 763.4,482.0 767.3,481.5 771.1,479.8 775.0,479.0 778.9,477.8 782.8,475.2 786.7,474.9 790.6,474.0 794.5,469.9 798.4,477.3 802.3,476.5 806.2,474.0 810.0,472.4 813.9,462.9 817.8,471.2 821.7,464.1 825.6,467.4 829.5,473.2 833.4,469.5 837.3,467.1 841.2,479.0 845.1,475.4 849.0,477.3 852.8,477.3 856.7,471.5 860.6,477.3 864.5,473.5 868.4,472.9 872.3,472.0 876.2,463.2 880.1,459.1 884.0,458.6 887.9,471.5 891.7,461.2 895.6,460.8 899.5,500.6 903.4,507.7 907.3,496.9 911.2,497.3 915.1,500.6 919.0,503.9 922.9,506.1 926.8,509.4 930.6,504.4 934.5,503.1 938.4,503.9 942.3,506.4 946.2,509.4 950.1,501.1 954.0,499.2 957.9,498.9 961.8,491.8 965.6,491.4 969.5,496.9 973.4,500.6 977.3,506.1 981.2,506.1 985.1,504.4 989.0,505.6 992.9,528.8 996.8,529.6" fill="none" stroke="#7e57c2" stroke-width="0.9" stroke-linejoin="round" stroke-linecap="round" />
<polyline points="4.8,611.9 8.7,613.5 12.6,615.2 16.5,617.3 20.4,619.7 24.3,621.5 28.2,623.0 32.0,624.0 35.9,624.3 39.8,624.0 43.7,623.5 47.6,621.8 51.5,619.7 55.4,617.3 59.3,615.2 63.2,613.2 67.1,611.9 71.0,610.7 74.8,609.4 78.7,608.2 82.6,606.5 86.5,604.7 90.4,602.7 94.3,600.7 98.2,598.6 102.1,596.1 106.0,593.3 109.8,590.8 113.7,588.6 117.6,586.1 121.5,583.6 125.4,581.1 129.3,578.7 133.2,576.5 137.1,574.5 141.0,573.4 144.9,572.9 148.8,572.5 152.6,572.9 156.5,573.2 160.4,573.7 164.3,574.2 168.2,574.9 172.1,576.2 176.0,577.8 179.9,579.5 183.8,580.8 187.7,582.0 191.5,582.8 195.4,583.1 199.3,583.3 203.2,583.3 207.1,583.1 211.0,582.8 214.9,582.3 218.8,581.5 222.7,580.7 226.6,579.5 230.4,578.7 234.3,577.8 238.2,577.0 242.1,576.5 246.0,575.8 249.9,575.7 253.8,575.3 257.7,575.2 261.6,575.2 265.4,575.0 269.3,575.0 273.2,574.9 277.1,574.9 281.0,575.0 284.9,575.2 288.8,575.5 292.7,575.8 296.6,575.8 300.5,575.3 304.4,574.0 308.2,572.5 312.1,571.2 316.0,569.5 319.9,568.2 323.8,567.0 327.7,565.7 331.6,564.2 335.5,562.9 339.4,561.6 343.2,560.1 347.1,558.8 351.0,557.4 354.9,556.3 358.8,554.9 362.7,553.8 366.6,552.9 370.5,552.4 374.4,552.1 378.3,552.6 382.1,554.3 386.0,556.3 389.9,558.2 393.8,560.7 397.7,562.9 401.6,564.1 405.5,566.5 409.4,569.0 413.3,571.2 417.2,573.4 421.1,574.2 424.9,575.3 428.8,576.2 432.7,577.0 436.6,577.5 440.5,578.3 444.4,579.5 448.3,580.8 452.2,581.6 456.1,582.8 459.9,584.0 463.8,585.0 467.7,586.1 471.6,587.0 475.5,587.5 479.4,587.8 483.3,587.5 487.2,587.0 491.1,586.1 495.0,584.8 498.9,583.3 502.7,582.0 506.6,580.8 510.5,579.8 514.4,579.0 518.3,578.3 522.2,577.8 526.1,577.8 530.0,577.8 533.9,577.8 537.8,578.2 541.6,578.2 545.5,577.8 549.4,577.5 553.3,577.3 557.2,577.0 561.1,576.7 565.0,575.8 568.9,574.9 572.8,573.4 576.6,571.7 580.5,570.4 584.4,568.7 588.3,567.5 592.2,566.5 596.1,566.2 600.0,566.6 603.9,567.5 607.8,567.9 611.7,568.4 615.5,569.0 619.4,570.0 623.3,571.2 627.2,572.5 631.1,574.0 635.0,575.3 638.9,576.5 642.8,577.5 646.7,578.3 650.6,578.7 654.5,578.7 658.3,578.3 662.2,578.2 666.1,577.8 670.0,577.5 673.9,576.7 677.8,575.7 681.7,574.9 685.6,574.0 689.5,573.4 693.4,573.2 697.2,573.2 701.1,572.9 705.0,572.5 708.9,572.0 712.8,571.2 716.7,570.7 720.6,570.7 724.5,570.7 728.4,570.7 732.2,570.9 736.1,571.2 740.0,571.5 743.9,571.7 747.8,571.7 751.7,570.9 755.6,569.9 759.5,569.0 763.4,568.4 767.3,567.9 771.1,567.4 775.0,567.0 778.9,566.5 782.8,566.2 786.7,565.9 790.6,565.4 794.5,564.9 798.4,564.8 802.3,564.9 806.2,564.6 810.0,564.1 813.9,563.4 817.8,562.9 821.7,562.4 825.6,562.1 829.5,561.6 833.4,561.2 837.3,560.9 841.2,560.7 845.1,560.7 849.0,560.9 852.8,561.2 856.7,561.6 860.6,561.7 864.5,561.7 868.4,562.1 872.3,562.1 876.2,561.7 880.1,561.2 884.0,560.7 887.9,560.1 891.7,559.6 895.6,559.1 899.5,559.6 903.4,561.6 907.3,563.4 911.2,565.4 915.1,567.4 919.0,569.5 922.9,572.0 926.8,574.5 930.6,576.7 934.5,579.0 938.4,580.8 942.3,582.5 946.2,584.0 950.1,585.0 954.0,585.6 957.9,585.8 961.8,585.8 965.6,585.3 969.5,585.0 973.4,584.8 977.3,585.0 981.2,585.3 985.1,585.3 989.0,585.5 992.9,586.6 996.8,588.6" fill="none" stroke="#f23645" stroke-width="0.9" stroke-linejoin="round" stroke-linecap="round" />
<polyline points="4.8,621.5 8.7,619.7 12.6,620.5 16.5,624.3 20.4,627.3 24.3,628.8 28.2,629.3 32.0,629.3 35.9,625.1 39.8,622.6 43.7,620.5 47.6,616.8 51.5,611.9 55.4,607.7 59.3,605.2 63.2,605.2 67.1,606.9 71.0,606.0 74.8,605.2 78.7,603.6 82.6,600.7 86.5,597.8 90.4,595.3 94.3,592.4 98.2,589.5 102.1,585.8 106.0,583.1 109.8,581.1 113.7,579.5 117.6,576.2 121.5,573.2 125.4,570.9 129.3,568.7 133.2,567.0 137.1,567.0 141.0,568.4 144.9,570.4 148.8,572.0 152.6,573.4 156.5,574.9 160.4,575.8 164.3,576.2 168.2,577.8 172.1,581.1 176.0,583.6 179.9,586.5 183.8,586.5 187.7,586.6 191.5,586.1 195.4,585.0 199.3,584.5 203.2,583.6 207.1,583.1 211.0,582.5 214.9,581.1 218.8,579.5 222.7,577.8 226.6,577.0 230.4,575.8 234.3,574.2 238.2,573.7 242.1,573.7 246.0,573.7 249.9,574.0 253.8,574.2 257.7,574.5 261.6,574.9 265.4,574.9 269.3,574.9 273.2,574.9 277.1,575.0 281.0,575.7 284.9,575.8 288.8,576.2 292.7,577.0 296.6,575.8 300.5,574.2 304.4,569.5 308.2,566.5 312.1,565.0 316.0,564.1 319.9,563.4 323.8,562.1 327.7,560.4 331.6,559.1 335.5,557.1 339.4,555.4 343.2,554.3 347.1,553.3 351.0,552.9 354.9,551.0 358.8,548.8 362.7,548.8 366.6,549.6 370.5,550.1 374.4,551.3 378.3,553.8 382.1,559.6 386.0,563.7 389.9,566.5 393.8,569.5 397.7,571.7 401.6,572.4 405.5,576.2 409.4,578.3 413.3,579.5 417.2,579.5 421.1,579.0 424.9,578.3 428.8,578.3 432.7,579.8 436.6,581.1 440.5,582.0 444.4,582.3 448.3,583.1 452.2,584.5 456.1,586.1 459.9,587.3 463.8,588.6 467.7,590.0 471.6,591.4 475.5,591.1 479.4,590.0 483.3,587.8 487.2,584.5 491.1,581.5 495.0,579.5 498.9,577.8 502.7,577.0 506.6,576.5 510.5,575.8 514.4,575.3 518.3,576.2 522.2,576.7 526.1,577.0 530.0,577.8 533.9,578.3 537.8,578.3 541.6,577.3 545.5,576.7 549.4,576.7 553.3,577.0 557.2,576.7 561.1,575.3 565.0,572.9 568.9,570.7 572.8,568.2 576.6,565.4 580.5,563.7 584.4,562.6 588.3,562.4 592.2,563.7 596.1,565.4 600.0,566.8 603.9,569.0 607.8,569.5 611.7,570.9 615.5,572.4 619.4,573.7 623.3,575.8 627.2,577.8 631.1,579.5 635.0,580.0 638.9,580.7 642.8,581.5 646.7,581.1 650.6,580.0 654.5,578.7 658.3,577.8 662.2,577.5 666.1,577.3 670.0,577.0 673.9,573.2 677.8,572.4 681.7,571.7 685.6,571.2 689.5,570.9 693.4,571.7 697.2,572.9 701.1,572.4 705.0,571.2 708.9,569.5 712.8,568.7 716.7,569.0 720.6,570.4 724.5,570.4 728.4,570.7 732.2,571.2 736.1,571.7 740.0,572.4 743.9,572.9 747.8,572.0 751.7,567.9 755.6,565.7 759.5,565.0 763.4,565.4 767.3,565.7 771.1,565.7 775.0,565.4 778.9,565.0 782.8,564.9 786.7,564.6 790.6,564.2 794.5,563.2 798.4,563.9 802.3,563.7 806.2,563.4 810.0,562.9 813.9,561.6 817.8,561.2 821.7,559.9 825.6,559.6 829.5,559.9 833.4,559.6 837.3,559.6 841.2,560.4 845.1,560.9 849.0,561.7 852.8,562.1 856.7,562.1 860.6,562.4 864.5,562.4 868.4,562.4 872.3,562.4 876.2,560.7 880.1,559.2 884.0,558.8 887.9,559.1 891.7,557.4 895.6,556.3 899.5,562.6 903.4,568.2 907.3,571.2 911.2,573.2 915.1,575.7 919.0,578.3 922.9,581.1 926.8,584.5 930.6,585.8 934.5,586.6 938.4,587.5 942.3,588.6 946.2,589.5 950.1,588.6 954.0,588.1 957.9,587.3 961.8,585.3 965.6,584.0 969.5,583.3 973.4,583.6 977.3,584.8 981.2,585.3 985.1,585.6 989.0,585.8 992.9,591.9 996.8,596.1" fill="none" stroke="#2962ff" stroke-width="0.9" stroke-linejoin="round" stroke-linecap="round" />
</g>
<rect x="1147.5" y="18.0" width="53.3" height="641.0" fill="#fff"/>
<g stroke="#e0e3eb" stroke-width="1" fill="none"><rect x="5.3" y="18.0" width="1195.5" height="641.0" stroke="#eff0f4"/><line x1="1147.5" y1="18.0" x2="1147.5" y2="659.0" stroke="#f3f4f6"/><line x1="5.3" y1="440.6" x2="1200.8" y2="440.6"/><line x1="5.3" y1="538.7" x2="1200.8" y2="538.7"/><line x1="5.3" y1="638.4" x2="1200.8" y2="638.4" stroke="#eef0f5"/></g>
<text x="1153.7" y="51.7" font-size="9.6" fill="#131722" textLength="24.4" lengthAdjust="spacingAndGlyphs">5.800</text>
<text x="1153.7" y="81.1" font-size="9.6" fill="#131722" textLength="24.4" lengthAdjust="spacingAndGlyphs">5.600</text>
<text x="1153.7" y="110.5" font-size="9.6" fill="#131722" textLength="24.4" lengthAdjust="spacingAndGlyphs">5.400</text>
<text x="1153.7" y="139.9" font-size="9.6" fill="#131722" textLength="24.4" lengthAdjust="spacingAndGlyphs">5.200</text>
<text x="1153.7" y="169.4" font-size="9.6" fill="#131722" textLength="24.4" lengthAdjust="spacingAndGlyphs">5.000</text>
<text x="1153.7" y="228.2" font-size="9.6" fill="#131722" textLength="24.4" lengthAdjust="spacingAndGlyphs">4.600</text>
<text x="1153.7" y="257.6" font-size="9.6" fill="#131722" textLength="24.4" lengthAdjust="spacingAndGlyphs">4.400</text>
<text x="1153.7" y="287.0" font-size="9.6" fill="#131722" textLength="24.4" lengthAdjust="spacingAndGlyphs">4.200</text>
<text x="1153.7" y="316.5" font-size="9.6" fill="#131722" textLength="24.4" lengthAdjust="spacingAndGlyphs">4.000</text>
<text x="1153.7" y="345.9" font-size="9.6" fill="#131722" textLength="24.4" lengthAdjust="spacingAndGlyphs">3.800</text>
<text x="1153.7" y="375.3" font-size="9.6" fill="#131722" textLength="24.4" lengthAdjust="spacingAndGlyphs">3.600</text>
<text x="1153.7" y="404.7" font-size="9.6" fill="#131722" textLength="24.4" lengthAdjust="spacingAndGlyphs">3.400</text>
<text x="1153.7" y="434.1" font-size="9.6" fill="#131722" textLength="24.4" lengthAdjust="spacingAndGlyphs">3.200</text>
<text x="1153.7" y="448.1" font-size="9.6" fill="#131722" textLength="24.6" lengthAdjust="spacingAndGlyphs">80.00</text>
<text x="1153.7" y="477.4" font-size="9.6" fill="#131722" textLength="24.6" lengthAdjust="spacingAndGlyphs">60.00</text>
<text x="1153.7" y="576.7" font-size="9.6" fill="#131722" textLength="24.4" lengthAdjust="spacingAndGlyphs">0.000</text>
<text x="1153.6" y="626.1" font-size="9.6" fill="#131722" textLength="30" lengthAdjust="spacingAndGlyphs">−0.500</text>
<rect x="1147.8" y="35.5" width="35.2" height="12.0" rx="1.5" fill="#e3effd"/><text x="1153.7" y="44.6" font-size="9.6" fill="#131722" textLength="24.4" lengthAdjust="spacingAndGlyphs">5.843</text>
<rect x="1121" y="35.5" width="26.2" height="12" rx="1.5" fill="#e3effd"/><text x="1124.6" y="44.8" font-size="9.6" fill="#131722" textLength="19" lengthAdjust="spacingAndGlyphs">High</text>
<rect x="1147.8" y="405.4" width="35.2" height="12.0" rx="1.5" fill="#e3effd"/><text x="1153.7" y="414.5" font-size="9.6" fill="#131722" textLength="24.4" lengthAdjust="spacingAndGlyphs">3.325</text>
<rect x="1124.3" y="405.4" width="22.9" height="12" rx="1.5" fill="#e3effd"/><text x="1127.8" y="414.8" font-size="9.6" fill="#131722" textLength="16" lengthAdjust="spacingAndGlyphs">Low</text>
<rect x="1147.8" y="182.8" width="35.2" height="12.6" rx="1.5" fill="#2962ff"/><text x="1153.7" y="192.3" font-size="9.6" fill="#fff" textLength="24.4" lengthAdjust="spacingAndGlyphs">4.786</text>
<rect x="1147.8" y="195.4" width="35.2" height="12.7" rx="1.5" fill="#fb2d36"/><text x="1153.7" y="204.9" font-size="9.6" fill="#fff" textLength="24.4" lengthAdjust="spacingAndGlyphs">4.754</text>
<rect x="1147.8" y="208.1" width="35.2" height="12.6" rx="1.5" fill="#9c27b0"/><text x="1153.7" y="217.5" font-size="9.6" fill="#fff" textLength="24.4" lengthAdjust="spacingAndGlyphs">4.667</text>
<rect x="1147.8" y="272.4" width="35.2" height="12.6" rx="1.5" fill="#000"/><text x="1153.7" y="281.8" font-size="9.6" fill="#fff" textLength="24.4" lengthAdjust="spacingAndGlyphs">4.231</text>
<rect x="1147.8" y="319.6" width="35.2" height="12.6" rx="1.5" fill="#000"/><text x="1153.7" y="329.0" font-size="9.6" fill="#fff" textLength="24.4" lengthAdjust="spacingAndGlyphs">3.912</text>
<rect x="1147.8" y="346.3" width="49.4" height="22.8" rx="1.5" fill="#000"/><text x="1153.7" y="356.0" font-size="9.6" fill="#fff" textLength="24.4" lengthAdjust="spacingAndGlyphs">3.730</text><text x="1153.7" y="366.9" font-size="9.6" fill="#fff" textLength="37.6" lengthAdjust="spacingAndGlyphs">21:07:21</text>
<rect x="1147.8" y="499.0" width="35.2" height="12.3" rx="1.5" fill="#fdd835"/><text x="1153.7" y="508.3" font-size="9.6" fill="#131722" textLength="24.6" lengthAdjust="spacingAndGlyphs">38.18</text>
<rect x="1147.8" y="523.3" width="35.2" height="12.6" rx="1.5" fill="#7e57c2"/><text x="1153.7" y="532.7" font-size="9.6" fill="#fff" textLength="24.6" lengthAdjust="spacingAndGlyphs">21.19</text>
<rect x="1147.8" y="574.9" width="40.6" height="12.2" rx="1.5" fill="#ff5252"/><text x="1153.6" y="584.1" font-size="9.6" fill="#fff" textLength="30" lengthAdjust="spacingAndGlyphs">−0.078</text>
<rect x="1147.8" y="587.1" width="40.6" height="12.6" rx="1.5" fill="#f23645"/><text x="1153.6" y="596.6" font-size="9.6" fill="#fff" textLength="30" lengthAdjust="spacingAndGlyphs">−0.153</text>
<rect x="1147.8" y="599.7" width="40.6" height="12.6" rx="1.5" fill="#2962ff"/><text x="1153.6" y="609.1" font-size="9.6" fill="#fff" textLength="30" lengthAdjust="spacingAndGlyphs">−0.231</text>
<rect x="1148.1" y="18.5" width="52.1" height="24" fill="#fff"/>
<rect x="1149.6" y="20.1" width="48.4" height="19.4" rx="3" fill="#fff" stroke="#eceef2" stroke-width="1"/>
<text x="1157" y="33.2" font-size="9.6" fill="#131722" textLength="23.6" lengthAdjust="spacingAndGlyphs">USDT</text>
<text x="32.0" y="652.8" font-size="9.2" font-weight="bold" fill="#131722" text-anchor="middle">Mar</text>
<text x="152.6" y="652.8" font-size="9.2" font-weight="bold" fill="#131722" text-anchor="middle">Apr</text>
<text x="269.3" y="652.8" font-size="9.2" font-weight="bold" fill="#131722" text-anchor="middle">May</text>
<text x="389.9" y="652.8" font-size="9.2" font-weight="bold" fill="#131722" text-anchor="middle">Jun</text>
<text x="506.6" y="652.8" font-size="9.2" font-weight="bold" fill="#131722" text-anchor="middle">Jul</text>
<text x="627.2" y="652.8" font-size="9.2" font-weight="bold" fill="#131722" text-anchor="middle">Aug</text>
<text x="747.8" y="652.8" font-size="9.2" font-weight="bold" fill="#131722" text-anchor="middle">Sep</text>
<text x="864.5" y="652.8" font-size="9.2" font-weight="bold" fill="#131722" text-anchor="middle">Oct</text>
<text x="985.1" y="652.8" font-size="9.2" font-weight="bold" fill="#131722" text-anchor="middle">Nov</text>
<text x="1101.8" y="652.8" font-size="9.2" font-weight="bold" fill="#131722" text-anchor="middle">Dec</text>
<text x="6" y="11.7" font-size="9.7" fill="#1a1a1a" stroke="#1a1a1a" stroke-width="0.2" textLength="329.5" lengthAdjust="spacingAndGlyphs">CryptoFXStreet created with TradingView.com, Nov 04, 2025 08:22 UTC+5:30</text>
<text x="12" y="31.8" font-size="9.4" fill="#131722" stroke="#131722" stroke-width="0.22" textLength="118.0" lengthAdjust="spacingAndGlyphs">BGBUSDT SPOT · 1D · Bitget</text>
<text x="136" y="31.8" font-size="9.4" fill="#131722" stroke="#131722" stroke-width="0.22" textLength="29.8" lengthAdjust="spacingAndGlyphs">O3.772</text>
<text x="171.8" y="31.8" font-size="9.4" fill="#131722" stroke="#131722" stroke-width="0.22" textLength="30.3" lengthAdjust="spacingAndGlyphs">H3.838</text>
<text x="208.5" y="31.8" font-size="9.4" fill="#131722" stroke="#131722" stroke-width="0.22" textLength="27.2" lengthAdjust="spacingAndGlyphs">L3.723</text>
<text x="242" y="31.8" font-size="9.4" fill="#131722" stroke="#131722" stroke-width="0.22" textLength="29.3" lengthAdjust="spacingAndGlyphs">C3.730</text>
<text x="277.6" y="31.8" font-size="9.4" fill="#131722" stroke="#131722" stroke-width="0.22" textLength="66.4" lengthAdjust="spacingAndGlyphs">−0.042 (−1.11%)</text>
<text x="12" y="44.5" font-size="9.4" fill="#131722" stroke="#131722" stroke-width="0.22" textLength="162.0" lengthAdjust="spacingAndGlyphs">EMA (50, close, 100, close, 200, close)</text>
<text x="180.2" y="44.5" font-size="9.4" fill="#fb2d36" stroke="#fb2d36" stroke-width="0.22" textLength="23.0" lengthAdjust="spacingAndGlyphs">4.754</text>
<text x="209.1" y="44.5" font-size="9.4" fill="#2962ff" stroke="#2962ff" stroke-width="0.22" textLength="23.3" lengthAdjust="spacingAndGlyphs">4.786</text>
<text x="238.4" y="44.5" font-size="9.4" fill="#9c27b0" stroke="#9c27b0" stroke-width="0.22" textLength="23.0" lengthAdjust="spacingAndGlyphs">4.667</text>
<text x="12" y="56.8" font-size="9.4" fill="#131722" stroke="#131722" stroke-width="0.22" textLength="102.3" lengthAdjust="spacingAndGlyphs">Pivots (Traditional, Auto)</text>
<text x="11.6" y="455.8" font-size="9.4" fill="#131722" stroke="#131722" stroke-width="0.22" textLength="59.4" lengthAdjust="spacingAndGlyphs">RSI (14, close)</text>
<text x="77" y="455.8" font-size="9.4" fill="#7e57c2" stroke="#7e57c2" stroke-width="0.22" textLength="21.0" lengthAdjust="spacingAndGlyphs">21.19</text>
<text x="104" y="455.8" font-size="9.4" fill="#fdd835" stroke="#fdd835" stroke-width="0.22" textLength="21.0" lengthAdjust="spacingAndGlyphs">38.18</text>
<text x="11.6" y="553.8" font-size="9.4" fill="#131722" stroke="#131722" stroke-width="0.22" textLength="88.4" lengthAdjust="spacingAndGlyphs">MACD (12, 26, close)</text>
<text x="105.5" y="553.8" font-size="9.4" fill="#ff5252" stroke="#ff5252" stroke-width="0.22" textLength="28.5" lengthAdjust="spacingAndGlyphs">−0.078</text>
<text x="140" y="553.8" font-size="9.4" fill="#2962ff" stroke="#2962ff" stroke-width="0.22" textLength="28.5" lengthAdjust="spacingAndGlyphs">−0.231</text>
<text x="174.5" y="553.8" font-size="9.4" fill="#f23645" stroke="#f23645" stroke-width="0.22" textLength="28.5" lengthAdjust="spacingAndGlyphs">−0.153</text>
<g transform="translate(7.2,673.47) scale(0.608)" fill="#131313"><path d="M14 22H7V11H0V4h14v18z"/><circle cx="20" cy="8" r="4"/><path d="M28 22h-8l7.5-18h8L28 22z"/></g>
<text x="34.4" y="686.9" font-size="15.4" fill="#131313" stroke="#131313" stroke-width="0.55" textLength="89.6" lengthAdjust="spacingAndGlyphs">TradingView</text>
</svg>
</body></html>
